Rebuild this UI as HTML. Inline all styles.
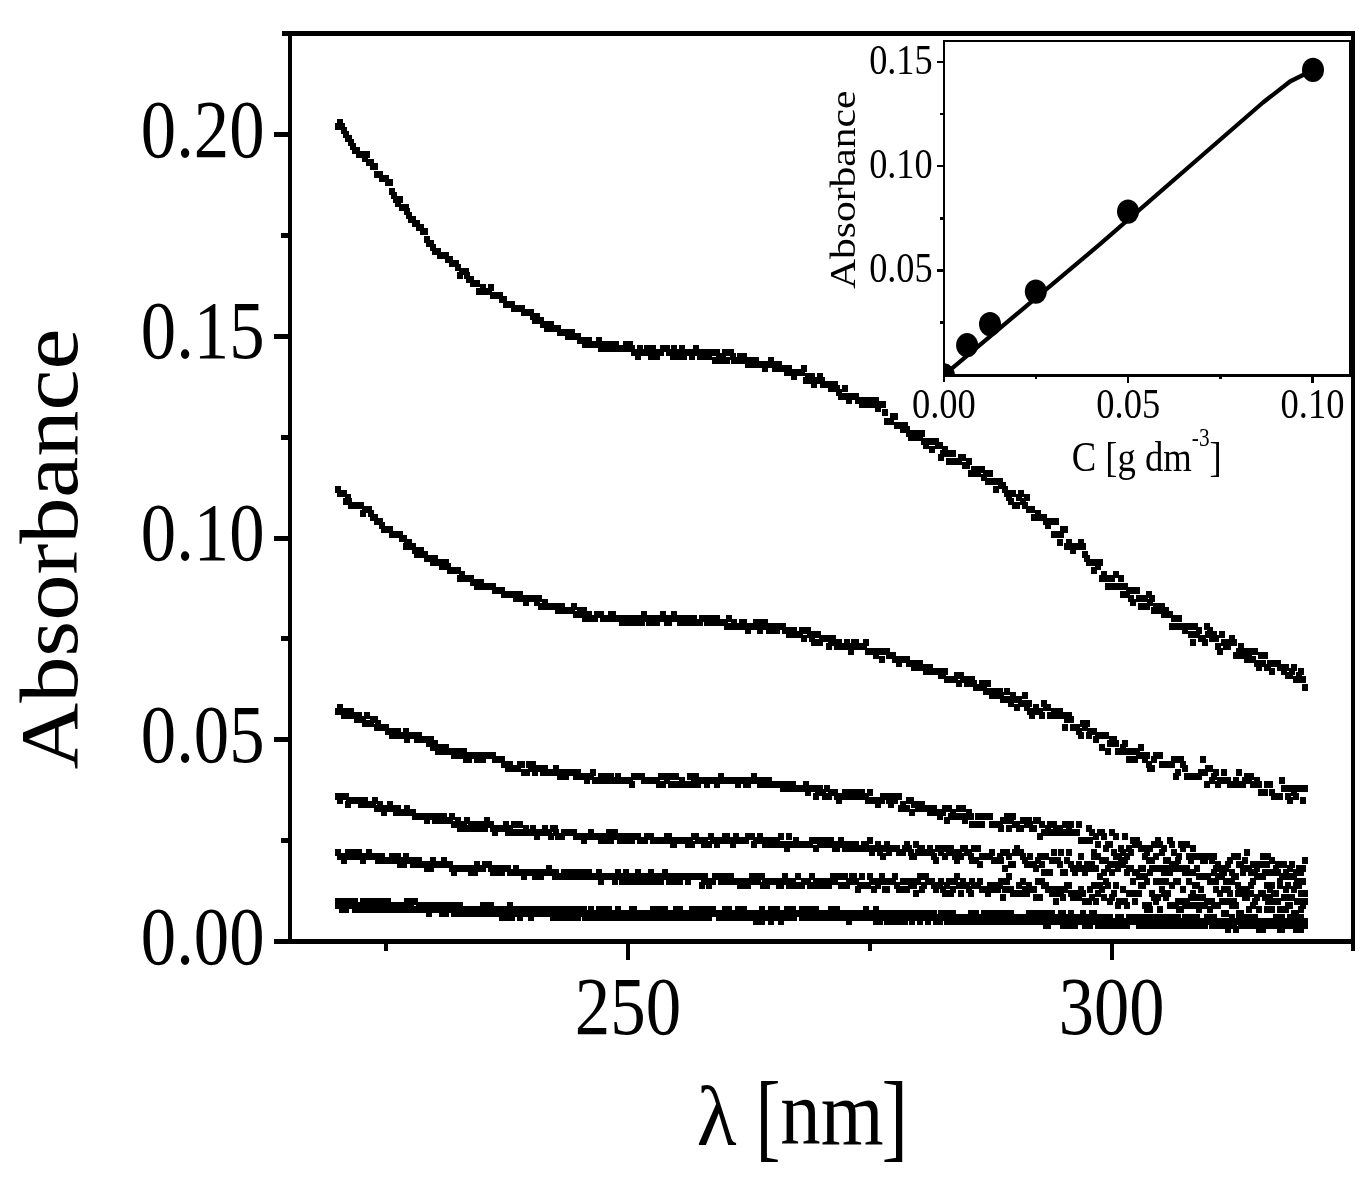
<!DOCTYPE html>
<html lang="en"><head><meta charset="utf-8"><title>Absorbance spectra</title>
<style>html,body{margin:0;padding:0;background:#fff}svg{display:block}text{font-family:'Liberation Serif', 'Times New Roman', serif;fill:#000}</style></head><body>
<svg width="1371" height="1179" viewBox="0 0 1371 1179">
<rect x="0" y="0" width="1371" height="1179" fill="#fff"/>
<g fill="#000" shape-rendering="crispEdges">
<rect x="282" y="31" width="1072" height="5"/>
<rect x="288" y="31" width="4" height="913"/>
<rect x="1351" y="31" width="4" height="920"/>
<rect x="274" y="939" width="1081" height="5"/>
<rect x="274" y="737.2" width="15" height="5"/>
<rect x="274" y="535.5" width="15" height="5"/>
<rect x="274" y="333.8" width="15" height="5"/>
<rect x="274" y="132.0" width="15" height="5"/>
<rect x="281" y="838.1" width="8" height="5"/>
<rect x="281" y="636.4" width="8" height="5"/>
<rect x="281" y="434.6" width="8" height="5"/>
<rect x="281" y="232.9" width="8" height="5"/>
<rect x="626.0" y="940" width="4" height="20"/>
<rect x="1109.7" y="940" width="4" height="20"/>
<rect x="384.1" y="940" width="4" height="11"/>
<rect x="867.9" y="940" width="4" height="11"/>
</g>
<text font-size="100" transform="matrix(0.7072,0,0,0.8224,140.77,963.56)">0.00</text>
<text font-size="100" transform="matrix(0.7072,0,0,0.8224,140.77,761.81)">0.05</text>
<text font-size="100" transform="matrix(0.7072,0,0,0.8224,140.77,560.06)">0.10</text>
<text font-size="100" transform="matrix(0.7072,0,0,0.8224,140.77,358.31)">0.15</text>
<text font-size="100" transform="matrix(0.7072,0,0,0.8224,140.77,156.56)">0.20</text>
<text font-size="100" transform="matrix(0.7092,0,0,0.8343,574.76,1033.53)">250</text>
<text font-size="100" transform="matrix(0.7043,0,0,0.8343,1058.78,1033.53)">300</text>
<g>
<text font-size="100" transform="matrix(0.8200,0,0,0.8400,696.74,1144.70)">λ</text>
<text font-size="100" transform="matrix(0.7522,0,0,0.9732,755.53,1149.25)">[</text>
<text font-size="100" transform="matrix(0.8081,0,0,0.9234,780.28,1144.40)">nm</text>
<text font-size="100" transform="matrix(0.8000,0,0,0.9732,881.40,1149.25)">]</text>
</g>
<text font-size="100" transform="matrix(0,-0.9235,0.8286,0,76.97,769.52)">Absorbance</text>
<path fill="#000" shape-rendering="crispEdges" d="M334.8 122.9h6v7h-6zM336.7 118.9h6v7h-6zM338.6 122.9h6v7h-6zM340.6 127.0h6v7h-6zM342.5 131.0h6v7h-6zM344.5 135.0h6v7h-6zM346.4 135.0h6v7h-6zM348.3 139.1h6v7h-6zM350.3 143.1h6v7h-6zM352.2 147.1h6v7h-6zM354.1 147.1h6v7h-6zM356.1 151.2h6v7h-6zM358.0 151.2h6v7h-6zM359.9 151.2h6v7h-6zM361.9 155.2h6v7h-6zM363.8 151.2h6v7h-6zM365.7 159.2h6v7h-6zM367.7 159.2h6v7h-6zM369.6 163.3h6v7h-6zM371.5 163.3h6v7h-6zM373.5 171.4h6v7h-6zM375.4 171.4h6v7h-6zM377.3 171.4h6v7h-6zM379.3 175.4h6v7h-6zM381.2 175.4h6v7h-6zM383.2 175.4h6v7h-6zM385.1 179.4h6v7h-6zM387.0 179.4h6v7h-6zM389.0 187.5h6v7h-6zM390.9 191.5h6v7h-6zM392.8 195.6h6v7h-6zM394.8 199.6h6v7h-6zM396.7 195.6h6v7h-6zM398.6 203.6h6v7h-6zM400.6 203.6h6v7h-6zM402.5 203.6h6v7h-6zM404.4 207.7h6v7h-6zM406.4 211.7h6v7h-6zM408.3 215.7h6v7h-6zM410.2 215.7h6v7h-6zM412.2 219.8h6v7h-6zM414.1 219.8h6v7h-6zM416.0 223.8h6v7h-6zM418.0 223.8h6v7h-6zM419.9 227.8h6v7h-6zM421.8 227.8h6v7h-6zM423.8 235.9h6v7h-6zM425.7 239.9h6v7h-6zM427.7 239.9h6v7h-6zM429.6 244.0h6v7h-6zM431.5 248.0h6v7h-6zM433.5 248.0h6v7h-6zM435.4 248.0h6v7h-6zM437.3 252.0h6v7h-6zM439.3 252.0h6v7h-6zM441.2 252.0h6v7h-6zM443.1 252.0h6v7h-6zM445.1 256.1h6v7h-6zM447.0 256.1h6v7h-6zM448.9 260.1h6v7h-6zM450.9 260.1h6v7h-6zM452.8 260.1h6v7h-6zM454.7 264.2h6v7h-6zM456.7 272.2h6v7h-6zM458.6 268.2h6v7h-6zM460.5 268.2h6v7h-6zM462.5 268.2h6v7h-6zM464.4 272.2h6v7h-6zM466.3 276.3h6v7h-6zM468.3 276.3h6v7h-6zM470.2 280.3h6v7h-6zM472.2 280.3h6v7h-6zM474.1 280.3h6v7h-6zM476.0 288.4h6v7h-6zM478.0 288.4h6v7h-6zM479.9 284.3h6v7h-6zM481.8 288.4h6v7h-6zM483.8 288.4h6v7h-6zM485.7 288.4h6v7h-6zM487.6 284.3h6v7h-6zM489.6 292.4h6v7h-6zM491.5 292.4h6v7h-6zM493.4 292.4h6v7h-6zM495.4 292.4h6v7h-6zM497.3 292.4h6v7h-6zM499.2 296.4h6v7h-6zM501.2 296.4h6v7h-6zM503.1 300.5h6v7h-6zM505.0 300.5h6v7h-6zM507.0 300.5h6v7h-6zM508.9 300.5h6v7h-6zM510.8 304.5h6v7h-6zM512.8 304.5h6v7h-6zM514.7 304.5h6v7h-6zM516.7 304.5h6v7h-6zM518.6 304.5h6v7h-6zM520.5 308.5h6v7h-6zM522.5 308.5h6v7h-6zM524.4 308.5h6v7h-6zM526.3 308.5h6v7h-6zM528.3 308.5h6v7h-6zM530.2 312.6h6v7h-6zM532.1 316.6h6v7h-6zM534.1 312.6h6v7h-6zM536.0 316.6h6v7h-6zM537.9 316.6h6v7h-6zM539.9 320.6h6v7h-6zM541.8 320.6h6v7h-6zM543.7 324.7h6v7h-6zM545.7 320.6h6v7h-6zM547.6 320.6h6v7h-6zM549.5 324.7h6v7h-6zM551.5 324.7h6v7h-6zM553.4 324.7h6v7h-6zM555.3 324.7h6v7h-6zM557.3 328.7h6v7h-6zM559.2 328.7h6v7h-6zM561.2 328.7h6v7h-6zM563.1 328.7h6v7h-6zM565.0 332.8h6v7h-6zM567.0 328.7h6v7h-6zM568.9 328.7h6v7h-6zM570.8 332.8h6v7h-6zM572.8 332.8h6v7h-6zM574.7 332.8h6v7h-6zM576.6 336.8h6v7h-6zM578.6 336.8h6v7h-6zM580.5 336.8h6v7h-6zM582.4 340.8h6v7h-6zM584.4 340.8h6v7h-6zM586.3 336.8h6v7h-6zM588.2 340.8h6v7h-6zM590.2 340.8h6v7h-6zM592.1 340.8h6v7h-6zM594.0 340.8h6v7h-6zM596.0 336.8h6v7h-6zM597.9 344.9h6v7h-6zM599.8 340.8h6v7h-6zM601.8 340.8h6v7h-6zM603.7 344.9h6v7h-6zM605.7 340.8h6v7h-6zM607.6 344.9h6v7h-6zM609.5 344.9h6v7h-6zM611.5 340.8h6v7h-6zM613.4 340.8h6v7h-6zM615.3 344.9h6v7h-6zM617.3 344.9h6v7h-6zM619.2 344.9h6v7h-6zM621.1 344.9h6v7h-6zM623.1 340.8h6v7h-6zM625.0 344.9h6v7h-6zM626.9 340.8h6v7h-6zM628.9 344.9h6v7h-6zM630.8 348.9h6v7h-6zM632.7 348.9h6v7h-6zM634.7 352.9h6v7h-6zM636.6 344.9h6v7h-6zM638.5 348.9h6v7h-6zM640.5 348.9h6v7h-6zM642.4 348.9h6v7h-6zM644.3 344.9h6v7h-6zM646.3 348.9h6v7h-6zM648.2 352.9h6v7h-6zM650.2 344.9h6v7h-6zM652.1 348.9h6v7h-6zM654.0 352.9h6v7h-6zM656.0 348.9h6v7h-6zM657.9 348.9h6v7h-6zM659.8 344.9h6v7h-6zM661.8 344.9h6v7h-6zM663.7 344.9h6v7h-6zM665.6 348.9h6v7h-6zM667.6 348.9h6v7h-6zM669.5 352.9h6v7h-6zM671.4 344.9h6v7h-6zM673.4 348.9h6v7h-6zM675.3 352.9h6v7h-6zM677.2 348.9h6v7h-6zM679.2 344.9h6v7h-6zM681.1 352.9h6v7h-6zM683.0 348.9h6v7h-6zM685.0 348.9h6v7h-6zM686.9 348.9h6v7h-6zM688.8 352.9h6v7h-6zM690.8 348.9h6v7h-6zM692.7 344.9h6v7h-6zM694.7 348.9h6v7h-6zM696.6 352.9h6v7h-6zM698.5 348.9h6v7h-6zM700.5 352.9h6v7h-6zM702.4 352.9h6v7h-6zM704.3 348.9h6v7h-6zM706.3 352.9h6v7h-6zM708.2 348.9h6v7h-6zM710.1 348.9h6v7h-6zM712.1 357.0h6v7h-6zM714.0 348.9h6v7h-6zM715.9 352.9h6v7h-6zM717.9 357.0h6v7h-6zM719.8 352.9h6v7h-6zM721.7 348.9h6v7h-6zM723.7 357.0h6v7h-6zM725.6 348.9h6v7h-6zM727.5 348.9h6v7h-6zM729.5 352.9h6v7h-6zM731.4 357.0h6v7h-6zM733.3 357.0h6v7h-6zM735.3 357.0h6v7h-6zM737.2 352.9h6v7h-6zM739.2 357.0h6v7h-6zM741.1 352.9h6v7h-6zM743.0 357.0h6v7h-6zM745.0 361.0h6v7h-6zM746.9 357.0h6v7h-6zM748.8 361.0h6v7h-6zM750.8 357.0h6v7h-6zM752.7 357.0h6v7h-6zM754.6 361.0h6v7h-6zM756.6 361.0h6v7h-6zM758.5 361.0h6v7h-6zM760.4 361.0h6v7h-6zM762.4 365.0h6v7h-6zM764.3 361.0h6v7h-6zM766.2 361.0h6v7h-6zM768.2 357.0h6v7h-6zM770.1 361.0h6v7h-6zM772.0 365.0h6v7h-6zM774.0 361.0h6v7h-6zM775.9 361.0h6v7h-6zM777.8 365.0h6v7h-6zM779.8 365.0h6v7h-6zM781.7 365.0h6v7h-6zM783.7 369.1h6v7h-6zM785.6 365.0h6v7h-6zM787.5 369.1h6v7h-6zM789.5 369.1h6v7h-6zM791.4 373.1h6v7h-6zM793.3 369.1h6v7h-6zM795.3 369.1h6v7h-6zM797.2 369.1h6v7h-6zM799.1 369.1h6v7h-6zM801.1 365.0h6v7h-6zM803.0 377.1h6v7h-6zM804.9 373.1h6v7h-6zM806.9 377.1h6v7h-6zM808.8 373.1h6v7h-6zM810.7 381.2h6v7h-6zM812.7 377.1h6v7h-6zM814.6 377.1h6v7h-6zM816.5 373.1h6v7h-6zM818.5 377.1h6v7h-6zM820.4 381.2h6v7h-6zM822.3 381.2h6v7h-6zM824.3 381.2h6v7h-6zM826.2 381.2h6v7h-6zM828.2 385.2h6v7h-6zM830.1 381.2h6v7h-6zM832.0 381.2h6v7h-6zM834.0 385.2h6v7h-6zM835.9 389.2h6v7h-6zM837.8 393.3h6v7h-6zM839.8 393.3h6v7h-6zM841.7 385.2h6v7h-6zM843.6 393.3h6v7h-6zM845.6 397.3h6v7h-6zM847.5 393.3h6v7h-6zM849.4 393.3h6v7h-6zM851.4 393.3h6v7h-6zM853.3 393.3h6v7h-6zM855.2 397.3h6v7h-6zM857.2 397.3h6v7h-6zM859.1 401.3h6v7h-6zM861.0 401.3h6v7h-6zM863.0 397.3h6v7h-6zM864.9 401.3h6v7h-6zM866.8 401.3h6v7h-6zM868.8 397.3h6v7h-6zM870.7 401.3h6v7h-6zM872.7 397.3h6v7h-6zM874.6 405.4h6v7h-6zM876.5 401.3h6v7h-6zM878.5 401.3h6v7h-6zM880.4 401.3h6v7h-6zM882.3 409.4h6v7h-6zM884.3 417.5h6v7h-6zM886.2 417.5h6v7h-6zM888.1 417.5h6v7h-6zM890.1 413.4h6v7h-6zM892.0 413.4h6v7h-6zM893.9 421.5h6v7h-6zM895.9 421.5h6v7h-6zM897.8 421.5h6v7h-6zM899.7 425.6h6v7h-6zM901.7 421.5h6v7h-6zM903.6 425.6h6v7h-6zM905.5 429.6h6v7h-6zM907.5 433.6h6v7h-6zM909.4 429.6h6v7h-6zM911.4 433.6h6v7h-6zM913.3 429.6h6v7h-6zM915.2 433.6h6v7h-6zM917.2 433.6h6v7h-6zM919.1 429.6h6v7h-6zM921.0 437.7h6v7h-6zM923.0 441.7h6v7h-6zM924.9 437.7h6v7h-6zM926.8 437.7h6v7h-6zM928.8 445.7h6v7h-6zM930.7 437.7h6v7h-6zM932.6 437.7h6v7h-6zM934.6 441.7h6v7h-6zM936.5 441.7h6v7h-6zM938.4 453.8h6v7h-6zM940.4 449.8h6v7h-6zM942.3 445.7h6v7h-6zM944.2 449.8h6v7h-6zM946.2 457.8h6v7h-6zM948.1 449.8h6v7h-6zM950.0 449.8h6v7h-6zM952.0 457.8h6v7h-6zM953.9 457.8h6v7h-6zM955.9 457.8h6v7h-6zM957.8 453.8h6v7h-6zM959.7 453.8h6v7h-6zM961.7 461.9h6v7h-6zM963.6 461.9h6v7h-6zM965.5 457.8h6v7h-6zM967.5 469.9h6v7h-6zM969.4 469.9h6v7h-6zM971.3 465.9h6v7h-6zM973.3 465.9h6v7h-6zM975.2 469.9h6v7h-6zM977.1 465.9h6v7h-6zM979.1 465.9h6v7h-6zM981.0 474.0h6v7h-6zM982.9 469.9h6v7h-6zM984.9 478.0h6v7h-6zM986.8 469.9h6v7h-6zM988.7 478.0h6v7h-6zM990.7 478.0h6v7h-6zM992.6 486.1h6v7h-6zM994.5 478.0h6v7h-6zM996.5 478.0h6v7h-6zM998.4 482.0h6v7h-6zM1000.4 482.0h6v7h-6zM1002.3 486.1h6v7h-6zM1004.2 490.1h6v7h-6zM1006.2 494.1h6v7h-6zM1008.1 498.2h6v7h-6zM1010.0 490.1h6v7h-6zM1012.0 502.2h6v7h-6zM1013.9 502.2h6v7h-6zM1015.8 494.1h6v7h-6zM1017.8 490.1h6v7h-6zM1019.7 498.2h6v7h-6zM1021.6 502.2h6v7h-6zM1023.6 494.1h6v7h-6zM1025.5 506.3h6v7h-6zM1027.4 506.3h6v7h-6zM1029.4 506.3h6v7h-6zM1031.3 514.3h6v7h-6zM1033.2 514.3h6v7h-6zM1035.2 510.3h6v7h-6zM1037.1 514.3h6v7h-6zM1039.0 514.3h6v7h-6zM1041.0 514.3h6v7h-6zM1042.9 518.4h6v7h-6zM1044.9 522.4h6v7h-6zM1046.8 518.4h6v7h-6zM1048.7 518.4h6v7h-6zM1050.7 530.5h6v7h-6zM1052.6 518.4h6v7h-6zM1054.5 530.5h6v7h-6zM1056.5 538.5h6v7h-6zM1058.4 530.5h6v7h-6zM1060.3 526.4h6v7h-6zM1062.3 526.4h6v7h-6zM1064.2 542.6h6v7h-6zM1066.1 538.5h6v7h-6zM1068.1 542.6h6v7h-6zM1070.0 546.6h6v7h-6zM1071.9 542.6h6v7h-6zM1073.9 542.6h6v7h-6zM1075.8 542.6h6v7h-6zM1077.7 538.5h6v7h-6zM1079.7 542.6h6v7h-6zM1081.6 550.6h6v7h-6zM1083.5 554.7h6v7h-6zM1085.5 558.7h6v7h-6zM1087.4 558.7h6v7h-6zM1089.4 558.7h6v7h-6zM1091.3 566.8h6v7h-6zM1093.2 558.7h6v7h-6zM1095.2 562.7h6v7h-6zM1097.1 558.7h6v7h-6zM1099.0 574.8h6v7h-6zM1101.0 570.8h6v7h-6zM1102.9 574.8h6v7h-6zM1104.8 582.9h6v7h-6zM1106.8 582.9h6v7h-6zM1108.7 574.8h6v7h-6zM1110.6 582.9h6v7h-6zM1112.6 570.8h6v7h-6zM1114.5 582.9h6v7h-6zM1116.4 582.9h6v7h-6zM1118.4 574.8h6v7h-6zM1120.3 591.0h6v7h-6zM1122.2 582.9h6v7h-6zM1124.2 591.0h6v7h-6zM1126.1 587.0h6v7h-6zM1128.0 595.0h6v7h-6zM1130.0 599.1h6v7h-6zM1131.9 587.0h6v7h-6zM1133.9 587.0h6v7h-6zM1135.8 595.0h6v7h-6zM1137.7 603.1h6v7h-6zM1139.7 595.0h6v7h-6zM1141.6 595.0h6v7h-6zM1143.5 603.1h6v7h-6zM1145.5 591.0h6v7h-6zM1147.4 599.1h6v7h-6zM1149.3 595.0h6v7h-6zM1151.3 607.1h6v7h-6zM1153.2 603.1h6v7h-6zM1155.1 603.1h6v7h-6zM1157.1 607.1h6v7h-6zM1159.0 603.1h6v7h-6zM1160.9 611.2h6v7h-6zM1162.9 607.1h6v7h-6zM1164.8 611.2h6v7h-6zM1166.7 611.2h6v7h-6zM1168.7 623.3h6v7h-6zM1170.6 615.2h6v7h-6zM1172.5 623.3h6v7h-6zM1174.5 623.3h6v7h-6zM1176.4 615.2h6v7h-6zM1178.4 623.3h6v7h-6zM1180.3 623.3h6v7h-6zM1182.2 627.3h6v7h-6zM1184.2 623.3h6v7h-6zM1186.1 623.3h6v7h-6zM1188.0 631.3h6v7h-6zM1190.0 639.4h6v7h-6zM1191.9 623.3h6v7h-6zM1193.8 631.3h6v7h-6zM1195.8 627.3h6v7h-6zM1197.7 635.4h6v7h-6zM1199.6 635.4h6v7h-6zM1201.6 639.4h6v7h-6zM1203.5 623.3h6v7h-6zM1205.4 631.3h6v7h-6zM1207.4 627.3h6v7h-6zM1209.3 635.4h6v7h-6zM1211.2 631.3h6v7h-6zM1213.2 635.4h6v7h-6zM1215.1 643.4h6v7h-6zM1217.0 647.5h6v7h-6zM1219.0 631.3h6v7h-6zM1220.9 639.4h6v7h-6zM1222.9 643.4h6v7h-6zM1224.8 643.4h6v7h-6zM1226.7 639.4h6v7h-6zM1228.7 635.4h6v7h-6zM1230.6 639.4h6v7h-6zM1232.5 651.5h6v7h-6zM1234.5 651.5h6v7h-6zM1236.4 647.5h6v7h-6zM1238.3 643.4h6v7h-6zM1240.3 651.5h6v7h-6zM1242.2 647.5h6v7h-6zM1244.1 655.5h6v7h-6zM1246.1 651.5h6v7h-6zM1248.0 647.5h6v7h-6zM1249.9 655.5h6v7h-6zM1251.9 647.5h6v7h-6zM1253.8 659.6h6v7h-6zM1255.7 663.6h6v7h-6zM1257.7 651.5h6v7h-6zM1259.6 659.6h6v7h-6zM1261.5 651.5h6v7h-6zM1263.5 663.6h6v7h-6zM1265.4 663.6h6v7h-6zM1267.4 659.6h6v7h-6zM1269.3 667.7h6v7h-6zM1271.2 659.6h6v7h-6zM1273.2 659.6h6v7h-6zM1275.1 659.6h6v7h-6zM1277.0 663.6h6v7h-6zM1279.0 663.6h6v7h-6zM1280.9 667.7h6v7h-6zM1282.8 663.6h6v7h-6zM1284.8 671.7h6v7h-6zM1286.7 671.7h6v7h-6zM1288.6 667.7h6v7h-6zM1290.6 663.6h6v7h-6zM1292.5 675.7h6v7h-6zM1294.4 675.7h6v7h-6zM1296.4 671.7h6v7h-6zM1298.3 667.7h6v7h-6zM1300.2 675.7h6v7h-6zM1302.2 683.8h6v7h-6zM334.8 486.1h6v7h-6zM336.7 490.1h6v7h-6zM338.6 490.1h6v7h-6zM340.6 490.1h6v7h-6zM342.5 498.2h6v7h-6zM344.5 494.1h6v7h-6zM346.4 498.2h6v7h-6zM348.3 502.2h6v7h-6zM350.3 502.2h6v7h-6zM352.2 502.2h6v7h-6zM354.1 502.2h6v7h-6zM356.1 502.2h6v7h-6zM358.0 502.2h6v7h-6zM359.9 510.3h6v7h-6zM361.9 506.3h6v7h-6zM363.8 506.3h6v7h-6zM365.7 506.3h6v7h-6zM367.7 510.3h6v7h-6zM369.6 514.3h6v7h-6zM371.5 514.3h6v7h-6zM373.5 518.4h6v7h-6zM375.4 518.4h6v7h-6zM377.3 518.4h6v7h-6zM379.3 522.4h6v7h-6zM381.2 526.4h6v7h-6zM383.2 526.4h6v7h-6zM385.1 526.4h6v7h-6zM387.0 526.4h6v7h-6zM389.0 530.5h6v7h-6zM390.9 530.5h6v7h-6zM392.8 530.5h6v7h-6zM394.8 530.5h6v7h-6zM396.7 530.5h6v7h-6zM398.6 534.5h6v7h-6zM400.6 534.5h6v7h-6zM402.5 542.6h6v7h-6zM404.4 538.5h6v7h-6zM406.4 538.5h6v7h-6zM408.3 542.6h6v7h-6zM410.2 542.6h6v7h-6zM412.2 546.6h6v7h-6zM414.1 550.6h6v7h-6zM416.0 546.6h6v7h-6zM418.0 546.6h6v7h-6zM419.9 550.6h6v7h-6zM421.8 550.6h6v7h-6zM423.8 554.7h6v7h-6zM425.7 554.7h6v7h-6zM427.7 554.7h6v7h-6zM429.6 558.7h6v7h-6zM431.5 554.7h6v7h-6zM433.5 558.7h6v7h-6zM435.4 558.7h6v7h-6zM437.3 558.7h6v7h-6zM439.3 562.7h6v7h-6zM441.2 562.7h6v7h-6zM443.1 558.7h6v7h-6zM445.1 562.7h6v7h-6zM447.0 566.8h6v7h-6zM448.9 566.8h6v7h-6zM450.9 566.8h6v7h-6zM452.8 566.8h6v7h-6zM454.7 566.8h6v7h-6zM456.7 574.8h6v7h-6zM458.6 570.8h6v7h-6zM460.5 574.8h6v7h-6zM462.5 574.8h6v7h-6zM464.4 574.8h6v7h-6zM466.3 574.8h6v7h-6zM468.3 574.8h6v7h-6zM470.2 578.9h6v7h-6zM472.2 578.9h6v7h-6zM474.1 582.9h6v7h-6zM476.0 578.9h6v7h-6zM478.0 578.9h6v7h-6zM479.9 582.9h6v7h-6zM481.8 582.9h6v7h-6zM483.8 582.9h6v7h-6zM485.7 582.9h6v7h-6zM487.6 582.9h6v7h-6zM489.6 582.9h6v7h-6zM491.5 587.0h6v7h-6zM493.4 587.0h6v7h-6zM495.4 587.0h6v7h-6zM497.3 587.0h6v7h-6zM499.2 587.0h6v7h-6zM501.2 591.0h6v7h-6zM503.1 591.0h6v7h-6zM505.0 591.0h6v7h-6zM507.0 591.0h6v7h-6zM508.9 591.0h6v7h-6zM510.8 591.0h6v7h-6zM512.8 595.0h6v7h-6zM514.7 591.0h6v7h-6zM516.7 591.0h6v7h-6zM518.6 595.0h6v7h-6zM520.5 595.0h6v7h-6zM522.5 599.1h6v7h-6zM524.4 595.0h6v7h-6zM526.3 595.0h6v7h-6zM528.3 595.0h6v7h-6zM530.2 595.0h6v7h-6zM532.1 595.0h6v7h-6zM534.1 599.1h6v7h-6zM536.0 595.0h6v7h-6zM537.9 603.1h6v7h-6zM539.9 603.1h6v7h-6zM541.8 599.1h6v7h-6zM543.7 603.1h6v7h-6zM545.7 603.1h6v7h-6zM547.6 603.1h6v7h-6zM549.5 603.1h6v7h-6zM551.5 603.1h6v7h-6zM553.4 603.1h6v7h-6zM555.3 607.1h6v7h-6zM557.3 603.1h6v7h-6zM559.2 603.1h6v7h-6zM561.2 607.1h6v7h-6zM563.1 607.1h6v7h-6zM565.0 607.1h6v7h-6zM567.0 607.1h6v7h-6zM568.9 607.1h6v7h-6zM570.8 603.1h6v7h-6zM572.8 611.2h6v7h-6zM574.7 611.2h6v7h-6zM576.6 607.1h6v7h-6zM578.6 611.2h6v7h-6zM580.5 607.1h6v7h-6zM582.4 615.2h6v7h-6zM584.4 611.2h6v7h-6zM586.3 611.2h6v7h-6zM588.2 615.2h6v7h-6zM590.2 615.2h6v7h-6zM592.1 615.2h6v7h-6zM594.0 611.2h6v7h-6zM596.0 611.2h6v7h-6zM597.9 611.2h6v7h-6zM599.8 615.2h6v7h-6zM601.8 615.2h6v7h-6zM603.7 615.2h6v7h-6zM605.7 615.2h6v7h-6zM607.6 611.2h6v7h-6zM609.5 611.2h6v7h-6zM611.5 615.2h6v7h-6zM613.4 615.2h6v7h-6zM615.3 615.2h6v7h-6zM617.3 615.2h6v7h-6zM619.2 619.2h6v7h-6zM621.1 615.2h6v7h-6zM623.1 615.2h6v7h-6zM625.0 619.2h6v7h-6zM626.9 615.2h6v7h-6zM628.9 615.2h6v7h-6zM630.8 619.2h6v7h-6zM632.7 615.2h6v7h-6zM634.7 619.2h6v7h-6zM636.6 615.2h6v7h-6zM638.5 619.2h6v7h-6zM640.5 611.2h6v7h-6zM642.4 615.2h6v7h-6zM644.3 615.2h6v7h-6zM646.3 619.2h6v7h-6zM648.2 619.2h6v7h-6zM650.2 615.2h6v7h-6zM652.1 615.2h6v7h-6zM654.0 619.2h6v7h-6zM656.0 615.2h6v7h-6zM657.9 615.2h6v7h-6zM659.8 611.2h6v7h-6zM661.8 615.2h6v7h-6zM663.7 619.2h6v7h-6zM665.6 619.2h6v7h-6zM667.6 615.2h6v7h-6zM669.5 615.2h6v7h-6zM671.4 611.2h6v7h-6zM673.4 615.2h6v7h-6zM675.3 615.2h6v7h-6zM677.2 619.2h6v7h-6zM679.2 619.2h6v7h-6zM681.1 615.2h6v7h-6zM683.0 615.2h6v7h-6zM685.0 619.2h6v7h-6zM686.9 619.2h6v7h-6zM688.8 615.2h6v7h-6zM690.8 615.2h6v7h-6zM692.7 619.2h6v7h-6zM694.7 619.2h6v7h-6zM696.6 619.2h6v7h-6zM698.5 615.2h6v7h-6zM700.5 615.2h6v7h-6zM702.4 615.2h6v7h-6zM704.3 619.2h6v7h-6zM706.3 615.2h6v7h-6zM708.2 619.2h6v7h-6zM710.1 615.2h6v7h-6zM712.1 619.2h6v7h-6zM714.0 615.2h6v7h-6zM715.9 619.2h6v7h-6zM717.9 619.2h6v7h-6zM719.8 619.2h6v7h-6zM721.7 619.2h6v7h-6zM723.7 623.3h6v7h-6zM725.6 615.2h6v7h-6zM727.5 623.3h6v7h-6zM729.5 623.3h6v7h-6zM731.4 619.2h6v7h-6zM733.3 623.3h6v7h-6zM735.3 623.3h6v7h-6zM737.2 623.3h6v7h-6zM739.2 619.2h6v7h-6zM741.1 619.2h6v7h-6zM743.0 623.3h6v7h-6zM745.0 627.3h6v7h-6zM746.9 623.3h6v7h-6zM748.8 623.3h6v7h-6zM750.8 623.3h6v7h-6zM752.7 619.2h6v7h-6zM754.6 623.3h6v7h-6zM756.6 627.3h6v7h-6zM758.5 619.2h6v7h-6zM760.4 623.3h6v7h-6zM762.4 619.2h6v7h-6zM764.3 623.3h6v7h-6zM766.2 627.3h6v7h-6zM768.2 623.3h6v7h-6zM770.1 623.3h6v7h-6zM772.0 627.3h6v7h-6zM774.0 627.3h6v7h-6zM775.9 623.3h6v7h-6zM777.8 623.3h6v7h-6zM779.8 623.3h6v7h-6zM781.7 627.3h6v7h-6zM783.7 627.3h6v7h-6zM785.6 631.3h6v7h-6zM787.5 631.3h6v7h-6zM789.5 627.3h6v7h-6zM791.4 627.3h6v7h-6zM793.3 631.3h6v7h-6zM795.3 631.3h6v7h-6zM797.2 631.3h6v7h-6zM799.1 627.3h6v7h-6zM801.1 635.4h6v7h-6zM803.0 627.3h6v7h-6zM804.9 627.3h6v7h-6zM806.9 631.3h6v7h-6zM808.8 635.4h6v7h-6zM810.7 639.4h6v7h-6zM812.7 631.3h6v7h-6zM814.6 631.3h6v7h-6zM816.5 639.4h6v7h-6zM818.5 635.4h6v7h-6zM820.4 635.4h6v7h-6zM822.3 635.4h6v7h-6zM824.3 635.4h6v7h-6zM826.2 643.4h6v7h-6zM828.2 639.4h6v7h-6zM830.1 635.4h6v7h-6zM832.0 639.4h6v7h-6zM834.0 643.4h6v7h-6zM835.9 639.4h6v7h-6zM837.8 643.4h6v7h-6zM839.8 643.4h6v7h-6zM841.7 643.4h6v7h-6zM843.6 639.4h6v7h-6zM845.6 643.4h6v7h-6zM847.5 647.5h6v7h-6zM849.4 643.4h6v7h-6zM851.4 639.4h6v7h-6zM853.3 639.4h6v7h-6zM855.2 643.4h6v7h-6zM857.2 643.4h6v7h-6zM859.1 643.4h6v7h-6zM861.0 643.4h6v7h-6zM863.0 639.4h6v7h-6zM864.9 647.5h6v7h-6zM866.8 647.5h6v7h-6zM868.8 647.5h6v7h-6zM870.7 647.5h6v7h-6zM872.7 651.5h6v7h-6zM874.6 647.5h6v7h-6zM876.5 647.5h6v7h-6zM878.5 655.5h6v7h-6zM880.4 647.5h6v7h-6zM882.3 647.5h6v7h-6zM884.3 647.5h6v7h-6zM886.2 651.5h6v7h-6zM888.1 651.5h6v7h-6zM890.1 651.5h6v7h-6zM892.0 655.5h6v7h-6zM893.9 655.5h6v7h-6zM895.9 659.6h6v7h-6zM897.8 655.5h6v7h-6zM899.7 655.5h6v7h-6zM901.7 655.5h6v7h-6zM903.6 655.5h6v7h-6zM905.5 659.6h6v7h-6zM907.5 659.6h6v7h-6zM909.4 659.6h6v7h-6zM911.4 663.6h6v7h-6zM913.3 663.6h6v7h-6zM915.2 659.6h6v7h-6zM917.2 659.6h6v7h-6zM919.1 663.6h6v7h-6zM921.0 663.6h6v7h-6zM923.0 667.7h6v7h-6zM924.9 663.6h6v7h-6zM926.8 663.6h6v7h-6zM928.8 667.7h6v7h-6zM930.7 667.7h6v7h-6zM932.6 667.7h6v7h-6zM934.6 667.7h6v7h-6zM936.5 667.7h6v7h-6zM938.4 671.7h6v7h-6zM940.4 671.7h6v7h-6zM942.3 667.7h6v7h-6zM944.2 675.7h6v7h-6zM946.2 675.7h6v7h-6zM948.1 675.7h6v7h-6zM950.0 675.7h6v7h-6zM952.0 675.7h6v7h-6zM953.9 671.7h6v7h-6zM955.9 679.8h6v7h-6zM957.8 671.7h6v7h-6zM959.7 675.7h6v7h-6zM961.7 675.7h6v7h-6zM963.6 679.8h6v7h-6zM965.5 679.8h6v7h-6zM967.5 675.7h6v7h-6zM969.4 675.7h6v7h-6zM971.3 679.8h6v7h-6zM973.3 683.8h6v7h-6zM975.2 683.8h6v7h-6zM977.1 683.8h6v7h-6zM979.1 679.8h6v7h-6zM981.0 683.8h6v7h-6zM982.9 687.8h6v7h-6zM984.9 679.8h6v7h-6zM986.8 687.8h6v7h-6zM988.7 691.9h6v7h-6zM990.7 687.8h6v7h-6zM992.6 687.8h6v7h-6zM994.5 691.9h6v7h-6zM996.5 687.8h6v7h-6zM998.4 691.9h6v7h-6zM1000.4 695.9h6v7h-6zM1002.3 695.9h6v7h-6zM1004.2 687.8h6v7h-6zM1006.2 695.9h6v7h-6zM1008.1 699.9h6v7h-6zM1010.0 691.9h6v7h-6zM1012.0 695.9h6v7h-6zM1013.9 704.0h6v7h-6zM1015.8 695.9h6v7h-6zM1017.8 699.9h6v7h-6zM1019.7 699.9h6v7h-6zM1021.6 691.9h6v7h-6zM1023.6 704.0h6v7h-6zM1025.5 699.9h6v7h-6zM1027.4 708.0h6v7h-6zM1029.4 712.0h6v7h-6zM1031.3 708.0h6v7h-6zM1033.2 704.0h6v7h-6zM1035.2 708.0h6v7h-6zM1037.1 708.0h6v7h-6zM1039.0 712.0h6v7h-6zM1041.0 699.9h6v7h-6zM1042.9 704.0h6v7h-6zM1044.9 704.0h6v7h-6zM1046.8 712.0h6v7h-6zM1048.7 712.0h6v7h-6zM1050.7 708.0h6v7h-6zM1052.6 708.0h6v7h-6zM1054.5 712.0h6v7h-6zM1056.5 708.0h6v7h-6zM1058.4 712.0h6v7h-6zM1060.3 712.0h6v7h-6zM1062.3 724.1h6v7h-6zM1064.2 716.1h6v7h-6zM1066.1 712.0h6v7h-6zM1068.1 716.1h6v7h-6zM1070.0 724.1h6v7h-6zM1071.9 724.1h6v7h-6zM1073.9 724.1h6v7h-6zM1075.8 728.2h6v7h-6zM1077.7 732.2h6v7h-6zM1079.7 720.1h6v7h-6zM1081.6 724.1h6v7h-6zM1083.5 720.1h6v7h-6zM1085.5 732.2h6v7h-6zM1087.4 728.2h6v7h-6zM1089.4 728.2h6v7h-6zM1091.3 728.2h6v7h-6zM1093.2 736.2h6v7h-6zM1095.2 732.2h6v7h-6zM1097.1 732.2h6v7h-6zM1099.0 744.3h6v7h-6zM1101.0 732.2h6v7h-6zM1102.9 732.2h6v7h-6zM1104.8 748.4h6v7h-6zM1106.8 740.3h6v7h-6zM1108.7 736.2h6v7h-6zM1110.6 736.2h6v7h-6zM1112.6 740.3h6v7h-6zM1114.5 748.4h6v7h-6zM1116.4 748.4h6v7h-6zM1118.4 748.4h6v7h-6zM1120.3 744.3h6v7h-6zM1122.2 740.3h6v7h-6zM1124.2 748.4h6v7h-6zM1126.1 756.4h6v7h-6zM1128.0 756.4h6v7h-6zM1130.0 748.4h6v7h-6zM1131.9 756.4h6v7h-6zM1133.9 748.4h6v7h-6zM1135.8 752.4h6v7h-6zM1137.7 744.3h6v7h-6zM1139.7 752.4h6v7h-6zM1141.6 756.4h6v7h-6zM1143.5 752.4h6v7h-6zM1145.5 760.5h6v7h-6zM1147.4 764.5h6v7h-6zM1149.3 764.5h6v7h-6zM1151.3 756.4h6v7h-6zM1153.2 752.4h6v7h-6zM1155.1 752.4h6v7h-6zM1157.1 752.4h6v7h-6zM1159.0 760.5h6v7h-6zM1160.9 760.5h6v7h-6zM1162.9 760.5h6v7h-6zM1164.8 760.5h6v7h-6zM1166.7 760.5h6v7h-6zM1168.7 760.5h6v7h-6zM1170.6 756.4h6v7h-6zM1172.5 772.6h6v7h-6zM1174.5 768.5h6v7h-6zM1176.4 756.4h6v7h-6zM1178.4 756.4h6v7h-6zM1180.3 760.5h6v7h-6zM1182.2 764.5h6v7h-6zM1184.2 772.6h6v7h-6zM1186.1 772.6h6v7h-6zM1188.0 772.6h6v7h-6zM1190.0 772.6h6v7h-6zM1191.9 772.6h6v7h-6zM1193.8 772.6h6v7h-6zM1195.8 772.6h6v7h-6zM1197.7 768.5h6v7h-6zM1199.6 756.4h6v7h-6zM1201.6 768.5h6v7h-6zM1203.5 780.6h6v7h-6zM1205.4 764.5h6v7h-6zM1207.4 764.5h6v7h-6zM1209.3 776.6h6v7h-6zM1211.2 772.6h6v7h-6zM1213.2 768.5h6v7h-6zM1215.1 780.6h6v7h-6zM1217.0 776.6h6v7h-6zM1219.0 776.6h6v7h-6zM1220.9 768.5h6v7h-6zM1222.9 776.6h6v7h-6zM1224.8 776.6h6v7h-6zM1226.7 780.6h6v7h-6zM1228.7 780.6h6v7h-6zM1230.6 780.6h6v7h-6zM1232.5 776.6h6v7h-6zM1234.5 780.6h6v7h-6zM1236.4 768.5h6v7h-6zM1238.3 780.6h6v7h-6zM1240.3 780.6h6v7h-6zM1242.2 776.6h6v7h-6zM1244.1 772.6h6v7h-6zM1246.1 776.6h6v7h-6zM1248.0 772.6h6v7h-6zM1249.9 780.6h6v7h-6zM1251.9 780.6h6v7h-6zM1253.8 776.6h6v7h-6zM1255.7 780.6h6v7h-6zM1257.7 788.7h6v7h-6zM1259.6 788.7h6v7h-6zM1261.5 788.7h6v7h-6zM1263.5 780.6h6v7h-6zM1265.4 780.6h6v7h-6zM1267.4 780.6h6v7h-6zM1269.3 788.7h6v7h-6zM1271.2 792.7h6v7h-6zM1273.2 792.7h6v7h-6zM1275.1 792.7h6v7h-6zM1277.0 792.7h6v7h-6zM1279.0 776.6h6v7h-6zM1280.9 784.7h6v7h-6zM1282.8 784.7h6v7h-6zM1284.8 792.7h6v7h-6zM1286.7 796.8h6v7h-6zM1288.6 784.7h6v7h-6zM1290.6 788.7h6v7h-6zM1292.5 792.7h6v7h-6zM1294.4 784.7h6v7h-6zM1296.4 784.7h6v7h-6zM1298.3 784.7h6v7h-6zM1300.2 796.8h6v7h-6zM1302.2 784.7h6v7h-6zM334.8 708.0h6v7h-6zM336.7 704.0h6v7h-6zM338.6 708.0h6v7h-6zM340.6 712.0h6v7h-6zM342.5 708.0h6v7h-6zM344.5 708.0h6v7h-6zM346.4 712.0h6v7h-6zM348.3 708.0h6v7h-6zM350.3 712.0h6v7h-6zM352.2 712.0h6v7h-6zM354.1 716.1h6v7h-6zM356.1 712.0h6v7h-6zM358.0 716.1h6v7h-6zM359.9 716.1h6v7h-6zM361.9 720.1h6v7h-6zM363.8 712.0h6v7h-6zM365.7 720.1h6v7h-6zM367.7 720.1h6v7h-6zM369.6 716.1h6v7h-6zM371.5 716.1h6v7h-6zM373.5 724.1h6v7h-6zM375.4 720.1h6v7h-6zM377.3 724.1h6v7h-6zM379.3 724.1h6v7h-6zM381.2 724.1h6v7h-6zM383.2 724.1h6v7h-6zM385.1 728.2h6v7h-6zM387.0 728.2h6v7h-6zM389.0 732.2h6v7h-6zM390.9 732.2h6v7h-6zM392.8 728.2h6v7h-6zM394.8 728.2h6v7h-6zM396.7 732.2h6v7h-6zM398.6 732.2h6v7h-6zM400.6 732.2h6v7h-6zM402.5 728.2h6v7h-6zM404.4 736.2h6v7h-6zM406.4 732.2h6v7h-6zM408.3 732.2h6v7h-6zM410.2 732.2h6v7h-6zM412.2 732.2h6v7h-6zM414.1 736.2h6v7h-6zM416.0 732.2h6v7h-6zM418.0 736.2h6v7h-6zM419.9 736.2h6v7h-6zM421.8 736.2h6v7h-6zM423.8 736.2h6v7h-6zM425.7 740.3h6v7h-6zM427.7 736.2h6v7h-6zM429.6 744.3h6v7h-6zM431.5 740.3h6v7h-6zM433.5 744.3h6v7h-6zM435.4 748.4h6v7h-6zM437.3 744.3h6v7h-6zM439.3 748.4h6v7h-6zM441.2 744.3h6v7h-6zM443.1 744.3h6v7h-6zM445.1 748.4h6v7h-6zM447.0 748.4h6v7h-6zM448.9 748.4h6v7h-6zM450.9 752.4h6v7h-6zM452.8 748.4h6v7h-6zM454.7 748.4h6v7h-6zM456.7 752.4h6v7h-6zM458.6 752.4h6v7h-6zM460.5 748.4h6v7h-6zM462.5 756.4h6v7h-6zM464.4 752.4h6v7h-6zM466.3 756.4h6v7h-6zM468.3 752.4h6v7h-6zM470.2 752.4h6v7h-6zM472.2 752.4h6v7h-6zM474.1 756.4h6v7h-6zM476.0 756.4h6v7h-6zM478.0 752.4h6v7h-6zM479.9 756.4h6v7h-6zM481.8 752.4h6v7h-6zM483.8 752.4h6v7h-6zM485.7 752.4h6v7h-6zM487.6 752.4h6v7h-6zM489.6 752.4h6v7h-6zM491.5 756.4h6v7h-6zM493.4 756.4h6v7h-6zM495.4 756.4h6v7h-6zM497.3 756.4h6v7h-6zM499.2 756.4h6v7h-6zM501.2 760.5h6v7h-6zM503.1 760.5h6v7h-6zM505.0 764.5h6v7h-6zM507.0 760.5h6v7h-6zM508.9 764.5h6v7h-6zM510.8 764.5h6v7h-6zM512.8 764.5h6v7h-6zM514.7 764.5h6v7h-6zM516.7 760.5h6v7h-6zM518.6 760.5h6v7h-6zM520.5 768.5h6v7h-6zM522.5 768.5h6v7h-6zM524.4 768.5h6v7h-6zM526.3 760.5h6v7h-6zM528.3 764.5h6v7h-6zM530.2 760.5h6v7h-6zM532.1 768.5h6v7h-6zM534.1 764.5h6v7h-6zM536.0 764.5h6v7h-6zM537.9 764.5h6v7h-6zM539.9 768.5h6v7h-6zM541.8 764.5h6v7h-6zM543.7 768.5h6v7h-6zM545.7 768.5h6v7h-6zM547.6 768.5h6v7h-6zM549.5 768.5h6v7h-6zM551.5 768.5h6v7h-6zM553.4 764.5h6v7h-6zM555.3 768.5h6v7h-6zM557.3 772.6h6v7h-6zM559.2 768.5h6v7h-6zM561.2 772.6h6v7h-6zM563.1 772.6h6v7h-6zM565.0 768.5h6v7h-6zM567.0 768.5h6v7h-6zM568.9 768.5h6v7h-6zM570.8 768.5h6v7h-6zM572.8 772.6h6v7h-6zM574.7 768.5h6v7h-6zM576.6 772.6h6v7h-6zM578.6 772.6h6v7h-6zM580.5 772.6h6v7h-6zM582.4 772.6h6v7h-6zM584.4 776.6h6v7h-6zM586.3 772.6h6v7h-6zM588.2 772.6h6v7h-6zM590.2 768.5h6v7h-6zM592.1 776.6h6v7h-6zM594.0 776.6h6v7h-6zM596.0 776.6h6v7h-6zM597.9 772.6h6v7h-6zM599.8 772.6h6v7h-6zM601.8 776.6h6v7h-6zM603.7 772.6h6v7h-6zM605.7 776.6h6v7h-6zM607.6 772.6h6v7h-6zM609.5 776.6h6v7h-6zM611.5 776.6h6v7h-6zM613.4 776.6h6v7h-6zM615.3 772.6h6v7h-6zM617.3 776.6h6v7h-6zM619.2 776.6h6v7h-6zM621.1 776.6h6v7h-6zM623.1 776.6h6v7h-6zM625.0 776.6h6v7h-6zM626.9 776.6h6v7h-6zM628.9 780.6h6v7h-6zM630.8 772.6h6v7h-6zM632.7 772.6h6v7h-6zM634.7 772.6h6v7h-6zM636.6 772.6h6v7h-6zM638.5 772.6h6v7h-6zM640.5 776.6h6v7h-6zM642.4 776.6h6v7h-6zM644.3 776.6h6v7h-6zM646.3 776.6h6v7h-6zM648.2 776.6h6v7h-6zM650.2 776.6h6v7h-6zM652.1 776.6h6v7h-6zM654.0 776.6h6v7h-6zM656.0 780.6h6v7h-6zM657.9 772.6h6v7h-6zM659.8 780.6h6v7h-6zM661.8 772.6h6v7h-6zM663.7 776.6h6v7h-6zM665.6 772.6h6v7h-6zM667.6 780.6h6v7h-6zM669.5 772.6h6v7h-6zM671.4 780.6h6v7h-6zM673.4 772.6h6v7h-6zM675.3 780.6h6v7h-6zM677.2 780.6h6v7h-6zM679.2 776.6h6v7h-6zM681.1 780.6h6v7h-6zM683.0 780.6h6v7h-6zM685.0 780.6h6v7h-6zM686.9 772.6h6v7h-6zM688.8 780.6h6v7h-6zM690.8 776.6h6v7h-6zM692.7 772.6h6v7h-6zM694.7 780.6h6v7h-6zM696.6 776.6h6v7h-6zM698.5 776.6h6v7h-6zM700.5 776.6h6v7h-6zM702.4 776.6h6v7h-6zM704.3 780.6h6v7h-6zM706.3 776.6h6v7h-6zM708.2 776.6h6v7h-6zM710.1 776.6h6v7h-6zM712.1 776.6h6v7h-6zM714.0 780.6h6v7h-6zM715.9 776.6h6v7h-6zM717.9 772.6h6v7h-6zM719.8 776.6h6v7h-6zM721.7 776.6h6v7h-6zM723.7 776.6h6v7h-6zM725.6 776.6h6v7h-6zM727.5 776.6h6v7h-6zM729.5 776.6h6v7h-6zM731.4 776.6h6v7h-6zM733.3 776.6h6v7h-6zM735.3 780.6h6v7h-6zM737.2 776.6h6v7h-6zM739.2 776.6h6v7h-6zM741.1 776.6h6v7h-6zM743.0 780.6h6v7h-6zM745.0 780.6h6v7h-6zM746.9 776.6h6v7h-6zM748.8 776.6h6v7h-6zM750.8 772.6h6v7h-6zM752.7 776.6h6v7h-6zM754.6 776.6h6v7h-6zM756.6 780.6h6v7h-6zM758.5 780.6h6v7h-6zM760.4 776.6h6v7h-6zM762.4 776.6h6v7h-6zM764.3 780.6h6v7h-6zM766.2 776.6h6v7h-6zM768.2 780.6h6v7h-6zM770.1 780.6h6v7h-6zM772.0 780.6h6v7h-6zM774.0 780.6h6v7h-6zM775.9 780.6h6v7h-6zM777.8 780.6h6v7h-6zM779.8 784.7h6v7h-6zM781.7 780.6h6v7h-6zM783.7 780.6h6v7h-6zM785.6 784.7h6v7h-6zM787.5 784.7h6v7h-6zM789.5 780.6h6v7h-6zM791.4 784.7h6v7h-6zM793.3 784.7h6v7h-6zM795.3 784.7h6v7h-6zM797.2 784.7h6v7h-6zM799.1 784.7h6v7h-6zM801.1 784.7h6v7h-6zM803.0 780.6h6v7h-6zM804.9 788.7h6v7h-6zM806.9 784.7h6v7h-6zM808.8 784.7h6v7h-6zM810.7 784.7h6v7h-6zM812.7 792.7h6v7h-6zM814.6 788.7h6v7h-6zM816.5 784.7h6v7h-6zM818.5 788.7h6v7h-6zM820.4 788.7h6v7h-6zM822.3 792.7h6v7h-6zM824.3 784.7h6v7h-6zM826.2 792.7h6v7h-6zM828.2 788.7h6v7h-6zM830.1 788.7h6v7h-6zM832.0 788.7h6v7h-6zM834.0 792.7h6v7h-6zM835.9 796.8h6v7h-6zM837.8 792.7h6v7h-6zM839.8 792.7h6v7h-6zM841.7 788.7h6v7h-6zM843.6 792.7h6v7h-6zM845.6 792.7h6v7h-6zM847.5 788.7h6v7h-6zM849.4 788.7h6v7h-6zM851.4 792.7h6v7h-6zM853.3 788.7h6v7h-6zM855.2 792.7h6v7h-6zM857.2 792.7h6v7h-6zM859.1 788.7h6v7h-6zM861.0 792.7h6v7h-6zM863.0 792.7h6v7h-6zM864.9 796.8h6v7h-6zM866.8 788.7h6v7h-6zM868.8 796.8h6v7h-6zM870.7 796.8h6v7h-6zM872.7 796.8h6v7h-6zM874.6 800.8h6v7h-6zM876.5 796.8h6v7h-6zM878.5 796.8h6v7h-6zM880.4 792.7h6v7h-6zM882.3 792.7h6v7h-6zM884.3 792.7h6v7h-6zM886.2 796.8h6v7h-6zM888.1 800.8h6v7h-6zM890.1 792.7h6v7h-6zM892.0 796.8h6v7h-6zM893.9 792.7h6v7h-6zM895.9 792.7h6v7h-6zM897.8 804.8h6v7h-6zM899.7 800.8h6v7h-6zM901.7 804.8h6v7h-6zM903.6 804.8h6v7h-6zM905.5 796.8h6v7h-6zM907.5 796.8h6v7h-6zM909.4 808.9h6v7h-6zM911.4 800.8h6v7h-6zM913.3 800.8h6v7h-6zM915.2 804.8h6v7h-6zM917.2 804.8h6v7h-6zM919.1 800.8h6v7h-6zM921.0 804.8h6v7h-6zM923.0 804.8h6v7h-6zM924.9 804.8h6v7h-6zM926.8 808.9h6v7h-6zM928.8 804.8h6v7h-6zM930.7 804.8h6v7h-6zM932.6 808.9h6v7h-6zM934.6 808.9h6v7h-6zM936.5 812.9h6v7h-6zM938.4 808.9h6v7h-6zM940.4 808.9h6v7h-6zM942.3 804.8h6v7h-6zM944.2 817.0h6v7h-6zM946.2 804.8h6v7h-6zM948.1 812.9h6v7h-6zM950.0 808.9h6v7h-6zM952.0 812.9h6v7h-6zM953.9 812.9h6v7h-6zM955.9 804.8h6v7h-6zM957.8 812.9h6v7h-6zM959.7 804.8h6v7h-6zM961.7 817.0h6v7h-6zM963.6 812.9h6v7h-6zM965.5 808.9h6v7h-6zM967.5 812.9h6v7h-6zM969.4 821.0h6v7h-6zM971.3 821.0h6v7h-6zM973.3 821.0h6v7h-6zM975.2 812.9h6v7h-6zM977.1 812.9h6v7h-6zM979.1 821.0h6v7h-6zM981.0 812.9h6v7h-6zM982.9 812.9h6v7h-6zM984.9 812.9h6v7h-6zM986.8 812.9h6v7h-6zM988.7 821.0h6v7h-6zM990.7 821.0h6v7h-6zM992.6 821.0h6v7h-6zM994.5 821.0h6v7h-6zM996.5 821.0h6v7h-6zM998.4 825.0h6v7h-6zM1000.4 817.0h6v7h-6zM1002.3 817.0h6v7h-6zM1004.2 812.9h6v7h-6zM1006.2 825.0h6v7h-6zM1008.1 817.0h6v7h-6zM1010.0 812.9h6v7h-6zM1012.0 821.0h6v7h-6zM1013.9 821.0h6v7h-6zM1015.8 825.0h6v7h-6zM1017.8 825.0h6v7h-6zM1019.7 817.0h6v7h-6zM1021.6 817.0h6v7h-6zM1023.6 821.0h6v7h-6zM1025.5 817.0h6v7h-6zM1027.4 821.0h6v7h-6zM1029.4 825.0h6v7h-6zM1031.3 825.0h6v7h-6zM1033.2 817.0h6v7h-6zM1035.2 817.0h6v7h-6zM1037.1 833.1h6v7h-6zM1039.0 821.0h6v7h-6zM1041.0 829.1h6v7h-6zM1042.9 829.1h6v7h-6zM1044.9 825.0h6v7h-6zM1046.8 821.0h6v7h-6zM1048.7 829.1h6v7h-6zM1050.7 821.0h6v7h-6zM1052.6 825.0h6v7h-6zM1054.5 829.1h6v7h-6zM1056.5 825.0h6v7h-6zM1058.4 829.1h6v7h-6zM1060.3 829.1h6v7h-6zM1062.3 821.0h6v7h-6zM1064.2 829.1h6v7h-6zM1066.1 825.0h6v7h-6zM1068.1 821.0h6v7h-6zM1070.0 829.1h6v7h-6zM1071.9 829.1h6v7h-6zM1073.9 829.1h6v7h-6zM1075.8 821.0h6v7h-6zM1077.7 837.1h6v7h-6zM1079.7 837.1h6v7h-6zM1081.6 837.1h6v7h-6zM1083.5 837.1h6v7h-6zM1085.5 825.0h6v7h-6zM1087.4 837.1h6v7h-6zM1089.4 829.1h6v7h-6zM1091.3 849.2h6v7h-6zM1093.2 833.1h6v7h-6zM1095.2 841.2h6v7h-6zM1097.1 829.1h6v7h-6zM1099.0 829.1h6v7h-6zM1101.0 833.1h6v7h-6zM1102.9 845.2h6v7h-6zM1104.8 841.2h6v7h-6zM1106.8 841.2h6v7h-6zM1108.7 829.1h6v7h-6zM1110.6 849.2h6v7h-6zM1112.6 833.1h6v7h-6zM1114.5 853.3h6v7h-6zM1116.4 853.3h6v7h-6zM1118.4 845.2h6v7h-6zM1120.3 849.2h6v7h-6zM1122.2 833.1h6v7h-6zM1124.2 853.3h6v7h-6zM1126.1 845.2h6v7h-6zM1128.0 849.2h6v7h-6zM1130.0 837.1h6v7h-6zM1131.9 841.2h6v7h-6zM1133.9 837.1h6v7h-6zM1135.8 841.2h6v7h-6zM1137.7 845.2h6v7h-6zM1139.7 845.2h6v7h-6zM1141.6 853.3h6v7h-6zM1143.5 849.2h6v7h-6zM1145.5 845.2h6v7h-6zM1147.4 845.2h6v7h-6zM1149.3 857.3h6v7h-6zM1151.3 841.2h6v7h-6zM1153.2 853.3h6v7h-6zM1155.1 837.1h6v7h-6zM1157.1 841.2h6v7h-6zM1159.0 849.2h6v7h-6zM1160.9 845.2h6v7h-6zM1162.9 857.3h6v7h-6zM1164.8 857.3h6v7h-6zM1166.7 837.1h6v7h-6zM1168.7 841.2h6v7h-6zM1170.6 849.2h6v7h-6zM1172.5 861.3h6v7h-6zM1174.5 857.3h6v7h-6zM1176.4 853.3h6v7h-6zM1178.4 841.2h6v7h-6zM1180.3 845.2h6v7h-6zM1182.2 841.2h6v7h-6zM1184.2 841.2h6v7h-6zM1186.1 853.3h6v7h-6zM1188.0 857.3h6v7h-6zM1190.0 845.2h6v7h-6zM1191.9 853.3h6v7h-6zM1193.8 865.4h6v7h-6zM1195.8 853.3h6v7h-6zM1197.7 853.3h6v7h-6zM1199.6 857.3h6v7h-6zM1201.6 857.3h6v7h-6zM1203.5 853.3h6v7h-6zM1205.4 853.3h6v7h-6zM1207.4 853.3h6v7h-6zM1209.3 857.3h6v7h-6zM1211.2 853.3h6v7h-6zM1213.2 865.4h6v7h-6zM1215.1 861.3h6v7h-6zM1217.0 865.4h6v7h-6zM1219.0 869.4h6v7h-6zM1220.9 869.4h6v7h-6zM1222.9 865.4h6v7h-6zM1224.8 861.3h6v7h-6zM1226.7 857.3h6v7h-6zM1228.7 869.4h6v7h-6zM1230.6 853.3h6v7h-6zM1232.5 853.3h6v7h-6zM1234.5 853.3h6v7h-6zM1236.4 861.3h6v7h-6zM1238.3 861.3h6v7h-6zM1240.3 865.4h6v7h-6zM1242.2 857.3h6v7h-6zM1244.1 849.2h6v7h-6zM1246.1 865.4h6v7h-6zM1248.0 869.4h6v7h-6zM1249.9 861.3h6v7h-6zM1251.9 861.3h6v7h-6zM1253.8 865.4h6v7h-6zM1255.7 873.4h6v7h-6zM1257.7 861.3h6v7h-6zM1259.6 853.3h6v7h-6zM1261.5 861.3h6v7h-6zM1263.5 861.3h6v7h-6zM1265.4 853.3h6v7h-6zM1267.4 869.4h6v7h-6zM1269.3 857.3h6v7h-6zM1271.2 869.4h6v7h-6zM1273.2 865.4h6v7h-6zM1275.1 861.3h6v7h-6zM1277.0 877.5h6v7h-6zM1279.0 861.3h6v7h-6zM1280.9 861.3h6v7h-6zM1282.8 869.4h6v7h-6zM1284.8 873.4h6v7h-6zM1286.7 865.4h6v7h-6zM1288.6 861.3h6v7h-6zM1290.6 873.4h6v7h-6zM1292.5 869.4h6v7h-6zM1294.4 877.5h6v7h-6zM1296.4 865.4h6v7h-6zM1298.3 869.4h6v7h-6zM1300.2 865.4h6v7h-6zM1302.2 857.3h6v7h-6zM334.8 792.7h6v7h-6zM336.7 796.8h6v7h-6zM338.6 792.7h6v7h-6zM340.6 792.7h6v7h-6zM342.5 792.7h6v7h-6zM344.5 800.8h6v7h-6zM346.4 796.8h6v7h-6zM348.3 796.8h6v7h-6zM350.3 796.8h6v7h-6zM352.2 796.8h6v7h-6zM354.1 796.8h6v7h-6zM356.1 796.8h6v7h-6zM358.0 800.8h6v7h-6zM359.9 800.8h6v7h-6zM361.9 796.8h6v7h-6zM363.8 800.8h6v7h-6zM365.7 800.8h6v7h-6zM367.7 800.8h6v7h-6zM369.6 800.8h6v7h-6zM371.5 796.8h6v7h-6zM373.5 804.8h6v7h-6zM375.4 804.8h6v7h-6zM377.3 800.8h6v7h-6zM379.3 804.8h6v7h-6zM381.2 808.9h6v7h-6zM383.2 804.8h6v7h-6zM385.1 804.8h6v7h-6zM387.0 800.8h6v7h-6zM389.0 804.8h6v7h-6zM390.9 804.8h6v7h-6zM392.8 808.9h6v7h-6zM394.8 804.8h6v7h-6zM396.7 808.9h6v7h-6zM398.6 808.9h6v7h-6zM400.6 808.9h6v7h-6zM402.5 808.9h6v7h-6zM404.4 804.8h6v7h-6zM406.4 808.9h6v7h-6zM408.3 808.9h6v7h-6zM410.2 808.9h6v7h-6zM412.2 812.9h6v7h-6zM414.1 812.9h6v7h-6zM416.0 812.9h6v7h-6zM418.0 812.9h6v7h-6zM419.9 812.9h6v7h-6zM421.8 812.9h6v7h-6zM423.8 817.0h6v7h-6zM425.7 812.9h6v7h-6zM427.7 812.9h6v7h-6zM429.6 812.9h6v7h-6zM431.5 817.0h6v7h-6zM433.5 817.0h6v7h-6zM435.4 812.9h6v7h-6zM437.3 817.0h6v7h-6zM439.3 817.0h6v7h-6zM441.2 812.9h6v7h-6zM443.1 817.0h6v7h-6zM445.1 817.0h6v7h-6zM447.0 817.0h6v7h-6zM448.9 812.9h6v7h-6zM450.9 821.0h6v7h-6zM452.8 821.0h6v7h-6zM454.7 817.0h6v7h-6zM456.7 825.0h6v7h-6zM458.6 821.0h6v7h-6zM460.5 821.0h6v7h-6zM462.5 825.0h6v7h-6zM464.4 817.0h6v7h-6zM466.3 825.0h6v7h-6zM468.3 821.0h6v7h-6zM470.2 821.0h6v7h-6zM472.2 825.0h6v7h-6zM474.1 821.0h6v7h-6zM476.0 821.0h6v7h-6zM478.0 825.0h6v7h-6zM479.9 821.0h6v7h-6zM481.8 825.0h6v7h-6zM483.8 817.0h6v7h-6zM485.7 821.0h6v7h-6zM487.6 821.0h6v7h-6zM489.6 825.0h6v7h-6zM491.5 829.1h6v7h-6zM493.4 825.0h6v7h-6zM495.4 825.0h6v7h-6zM497.3 825.0h6v7h-6zM499.2 825.0h6v7h-6zM501.2 825.0h6v7h-6zM503.1 821.0h6v7h-6zM505.0 829.1h6v7h-6zM507.0 825.0h6v7h-6zM508.9 829.1h6v7h-6zM510.8 821.0h6v7h-6zM512.8 821.0h6v7h-6zM514.7 829.1h6v7h-6zM516.7 821.0h6v7h-6zM518.6 829.1h6v7h-6zM520.5 829.1h6v7h-6zM522.5 825.0h6v7h-6zM524.4 829.1h6v7h-6zM526.3 829.1h6v7h-6zM528.3 829.1h6v7h-6zM530.2 825.0h6v7h-6zM532.1 829.1h6v7h-6zM534.1 833.1h6v7h-6zM536.0 829.1h6v7h-6zM537.9 829.1h6v7h-6zM539.9 829.1h6v7h-6zM541.8 825.0h6v7h-6zM543.7 829.1h6v7h-6zM545.7 829.1h6v7h-6zM547.6 833.1h6v7h-6zM549.5 825.0h6v7h-6zM551.5 825.0h6v7h-6zM553.4 829.1h6v7h-6zM555.3 833.1h6v7h-6zM557.3 833.1h6v7h-6zM559.2 833.1h6v7h-6zM561.2 829.1h6v7h-6zM563.1 829.1h6v7h-6zM565.0 829.1h6v7h-6zM567.0 829.1h6v7h-6zM568.9 829.1h6v7h-6zM570.8 829.1h6v7h-6zM572.8 833.1h6v7h-6zM574.7 833.1h6v7h-6zM576.6 833.1h6v7h-6zM578.6 833.1h6v7h-6zM580.5 837.1h6v7h-6zM582.4 833.1h6v7h-6zM584.4 833.1h6v7h-6zM586.3 833.1h6v7h-6zM588.2 829.1h6v7h-6zM590.2 833.1h6v7h-6zM592.1 833.1h6v7h-6zM594.0 833.1h6v7h-6zM596.0 833.1h6v7h-6zM597.9 837.1h6v7h-6zM599.8 833.1h6v7h-6zM601.8 837.1h6v7h-6zM603.7 833.1h6v7h-6zM605.7 829.1h6v7h-6zM607.6 837.1h6v7h-6zM609.5 833.1h6v7h-6zM611.5 829.1h6v7h-6zM613.4 833.1h6v7h-6zM615.3 833.1h6v7h-6zM617.3 837.1h6v7h-6zM619.2 833.1h6v7h-6zM621.1 837.1h6v7h-6zM623.1 837.1h6v7h-6zM625.0 833.1h6v7h-6zM626.9 833.1h6v7h-6zM628.9 837.1h6v7h-6zM630.8 833.1h6v7h-6zM632.7 833.1h6v7h-6zM634.7 833.1h6v7h-6zM636.6 837.1h6v7h-6zM638.5 837.1h6v7h-6zM640.5 837.1h6v7h-6zM642.4 837.1h6v7h-6zM644.3 833.1h6v7h-6zM646.3 833.1h6v7h-6zM648.2 833.1h6v7h-6zM650.2 837.1h6v7h-6zM652.1 837.1h6v7h-6zM654.0 837.1h6v7h-6zM656.0 837.1h6v7h-6zM657.9 837.1h6v7h-6zM659.8 837.1h6v7h-6zM661.8 837.1h6v7h-6zM663.7 833.1h6v7h-6zM665.6 833.1h6v7h-6zM667.6 837.1h6v7h-6zM669.5 841.2h6v7h-6zM671.4 841.2h6v7h-6zM673.4 837.1h6v7h-6zM675.3 837.1h6v7h-6zM677.2 837.1h6v7h-6zM679.2 837.1h6v7h-6zM681.1 837.1h6v7h-6zM683.0 837.1h6v7h-6zM685.0 841.2h6v7h-6zM686.9 837.1h6v7h-6zM688.8 841.2h6v7h-6zM690.8 833.1h6v7h-6zM692.7 833.1h6v7h-6zM694.7 837.1h6v7h-6zM696.6 837.1h6v7h-6zM698.5 837.1h6v7h-6zM700.5 841.2h6v7h-6zM702.4 837.1h6v7h-6zM704.3 841.2h6v7h-6zM706.3 841.2h6v7h-6zM708.2 833.1h6v7h-6zM710.1 837.1h6v7h-6zM712.1 837.1h6v7h-6zM714.0 841.2h6v7h-6zM715.9 837.1h6v7h-6zM717.9 837.1h6v7h-6zM719.8 837.1h6v7h-6zM721.7 833.1h6v7h-6zM723.7 833.1h6v7h-6zM725.6 837.1h6v7h-6zM727.5 837.1h6v7h-6zM729.5 841.2h6v7h-6zM731.4 837.1h6v7h-6zM733.3 833.1h6v7h-6zM735.3 837.1h6v7h-6zM737.2 837.1h6v7h-6zM739.2 837.1h6v7h-6zM741.1 837.1h6v7h-6zM743.0 837.1h6v7h-6zM745.0 833.1h6v7h-6zM746.9 833.1h6v7h-6zM748.8 833.1h6v7h-6zM750.8 841.2h6v7h-6zM752.7 837.1h6v7h-6zM754.6 837.1h6v7h-6zM756.6 833.1h6v7h-6zM758.5 837.1h6v7h-6zM760.4 837.1h6v7h-6zM762.4 841.2h6v7h-6zM764.3 837.1h6v7h-6zM766.2 841.2h6v7h-6zM768.2 837.1h6v7h-6zM770.1 837.1h6v7h-6zM772.0 841.2h6v7h-6zM774.0 837.1h6v7h-6zM775.9 841.2h6v7h-6zM777.8 833.1h6v7h-6zM779.8 841.2h6v7h-6zM781.7 841.2h6v7h-6zM783.7 845.2h6v7h-6zM785.6 833.1h6v7h-6zM787.5 841.2h6v7h-6zM789.5 841.2h6v7h-6zM791.4 841.2h6v7h-6zM793.3 837.1h6v7h-6zM795.3 841.2h6v7h-6zM797.2 841.2h6v7h-6zM799.1 841.2h6v7h-6zM801.1 841.2h6v7h-6zM803.0 841.2h6v7h-6zM804.9 841.2h6v7h-6zM806.9 841.2h6v7h-6zM808.8 837.1h6v7h-6zM810.7 837.1h6v7h-6zM812.7 845.2h6v7h-6zM814.6 837.1h6v7h-6zM816.5 841.2h6v7h-6zM818.5 837.1h6v7h-6zM820.4 841.2h6v7h-6zM822.3 837.1h6v7h-6zM824.3 841.2h6v7h-6zM826.2 837.1h6v7h-6zM828.2 837.1h6v7h-6zM830.1 841.2h6v7h-6zM832.0 845.2h6v7h-6zM834.0 845.2h6v7h-6zM835.9 841.2h6v7h-6zM837.8 837.1h6v7h-6zM839.8 841.2h6v7h-6zM841.7 845.2h6v7h-6zM843.6 841.2h6v7h-6zM845.6 845.2h6v7h-6zM847.5 841.2h6v7h-6zM849.4 845.2h6v7h-6zM851.4 841.2h6v7h-6zM853.3 841.2h6v7h-6zM855.2 845.2h6v7h-6zM857.2 845.2h6v7h-6zM859.1 845.2h6v7h-6zM861.0 841.2h6v7h-6zM863.0 841.2h6v7h-6zM864.9 845.2h6v7h-6zM866.8 837.1h6v7h-6zM868.8 849.2h6v7h-6zM870.7 845.2h6v7h-6zM872.7 845.2h6v7h-6zM874.6 841.2h6v7h-6zM876.5 849.2h6v7h-6zM878.5 845.2h6v7h-6zM880.4 853.3h6v7h-6zM882.3 845.2h6v7h-6zM884.3 841.2h6v7h-6zM886.2 849.2h6v7h-6zM888.1 845.2h6v7h-6zM890.1 845.2h6v7h-6zM892.0 845.2h6v7h-6zM893.9 845.2h6v7h-6zM895.9 849.2h6v7h-6zM897.8 849.2h6v7h-6zM899.7 849.2h6v7h-6zM901.7 845.2h6v7h-6zM903.6 841.2h6v7h-6zM905.5 845.2h6v7h-6zM907.5 849.2h6v7h-6zM909.4 853.3h6v7h-6zM911.4 853.3h6v7h-6zM913.3 841.2h6v7h-6zM915.2 849.2h6v7h-6zM917.2 845.2h6v7h-6zM919.1 845.2h6v7h-6zM921.0 849.2h6v7h-6zM923.0 849.2h6v7h-6zM924.9 849.2h6v7h-6zM926.8 845.2h6v7h-6zM928.8 849.2h6v7h-6zM930.7 853.3h6v7h-6zM932.6 857.3h6v7h-6zM934.6 845.2h6v7h-6zM936.5 845.2h6v7h-6zM938.4 849.2h6v7h-6zM940.4 845.2h6v7h-6zM942.3 853.3h6v7h-6zM944.2 845.2h6v7h-6zM946.2 849.2h6v7h-6zM948.1 845.2h6v7h-6zM950.0 849.2h6v7h-6zM952.0 853.3h6v7h-6zM953.9 857.3h6v7h-6zM955.9 849.2h6v7h-6zM957.8 853.3h6v7h-6zM959.7 845.2h6v7h-6zM961.7 845.2h6v7h-6zM963.6 849.2h6v7h-6zM965.5 849.2h6v7h-6zM967.5 853.3h6v7h-6zM969.4 857.3h6v7h-6zM971.3 845.2h6v7h-6zM973.3 857.3h6v7h-6zM975.2 845.2h6v7h-6zM977.1 861.3h6v7h-6zM979.1 853.3h6v7h-6zM981.0 853.3h6v7h-6zM982.9 853.3h6v7h-6zM984.9 853.3h6v7h-6zM986.8 853.3h6v7h-6zM988.7 849.2h6v7h-6zM990.7 857.3h6v7h-6zM992.6 857.3h6v7h-6zM994.5 857.3h6v7h-6zM996.5 853.3h6v7h-6zM998.4 857.3h6v7h-6zM1000.4 849.2h6v7h-6zM1002.3 865.4h6v7h-6zM1004.2 849.2h6v7h-6zM1006.2 853.3h6v7h-6zM1008.1 861.3h6v7h-6zM1010.0 861.3h6v7h-6zM1012.0 849.2h6v7h-6zM1013.9 845.2h6v7h-6zM1015.8 849.2h6v7h-6zM1017.8 849.2h6v7h-6zM1019.7 853.3h6v7h-6zM1021.6 857.3h6v7h-6zM1023.6 861.3h6v7h-6zM1025.5 861.3h6v7h-6zM1027.4 853.3h6v7h-6zM1029.4 861.3h6v7h-6zM1031.3 861.3h6v7h-6zM1033.2 865.4h6v7h-6zM1035.2 857.3h6v7h-6zM1037.1 853.3h6v7h-6zM1039.0 861.3h6v7h-6zM1041.0 869.4h6v7h-6zM1042.9 853.3h6v7h-6zM1044.9 869.4h6v7h-6zM1046.8 869.4h6v7h-6zM1048.7 857.3h6v7h-6zM1050.7 849.2h6v7h-6zM1052.6 857.3h6v7h-6zM1054.5 857.3h6v7h-6zM1056.5 861.3h6v7h-6zM1058.4 849.2h6v7h-6zM1060.3 869.4h6v7h-6zM1062.3 869.4h6v7h-6zM1064.2 857.3h6v7h-6zM1066.1 849.2h6v7h-6zM1068.1 861.3h6v7h-6zM1070.0 865.4h6v7h-6zM1071.9 869.4h6v7h-6zM1073.9 865.4h6v7h-6zM1075.8 861.3h6v7h-6zM1077.7 853.3h6v7h-6zM1079.7 865.4h6v7h-6zM1081.6 869.4h6v7h-6zM1083.5 861.3h6v7h-6zM1085.5 865.4h6v7h-6zM1087.4 865.4h6v7h-6zM1089.4 861.3h6v7h-6zM1091.3 853.3h6v7h-6zM1093.2 865.4h6v7h-6zM1095.2 853.3h6v7h-6zM1097.1 873.4h6v7h-6zM1099.0 857.3h6v7h-6zM1101.0 869.4h6v7h-6zM1102.9 857.3h6v7h-6zM1104.8 865.4h6v7h-6zM1106.8 861.3h6v7h-6zM1108.7 869.4h6v7h-6zM1110.6 861.3h6v7h-6zM1112.6 853.3h6v7h-6zM1114.5 865.4h6v7h-6zM1116.4 861.3h6v7h-6zM1118.4 857.3h6v7h-6zM1120.3 861.3h6v7h-6zM1122.2 857.3h6v7h-6zM1124.2 869.4h6v7h-6zM1126.1 865.4h6v7h-6zM1128.0 865.4h6v7h-6zM1130.0 877.5h6v7h-6zM1131.9 869.4h6v7h-6zM1133.9 869.4h6v7h-6zM1135.8 873.4h6v7h-6zM1137.7 865.4h6v7h-6zM1139.7 865.4h6v7h-6zM1141.6 873.4h6v7h-6zM1143.5 877.5h6v7h-6zM1145.5 857.3h6v7h-6zM1147.4 869.4h6v7h-6zM1149.3 865.4h6v7h-6zM1151.3 865.4h6v7h-6zM1153.2 877.5h6v7h-6zM1155.1 865.4h6v7h-6zM1157.1 877.5h6v7h-6zM1159.0 865.4h6v7h-6zM1160.9 869.4h6v7h-6zM1162.9 877.5h6v7h-6zM1164.8 865.4h6v7h-6zM1166.7 869.4h6v7h-6zM1168.7 861.3h6v7h-6zM1170.6 865.4h6v7h-6zM1172.5 877.5h6v7h-6zM1174.5 877.5h6v7h-6zM1176.4 865.4h6v7h-6zM1178.4 865.4h6v7h-6zM1180.3 885.5h6v7h-6zM1182.2 869.4h6v7h-6zM1184.2 865.4h6v7h-6zM1186.1 877.5h6v7h-6zM1188.0 869.4h6v7h-6zM1190.0 869.4h6v7h-6zM1191.9 881.5h6v7h-6zM1193.8 881.5h6v7h-6zM1195.8 873.4h6v7h-6zM1197.7 885.5h6v7h-6zM1199.6 873.4h6v7h-6zM1201.6 873.4h6v7h-6zM1203.5 873.4h6v7h-6zM1205.4 873.4h6v7h-6zM1207.4 877.5h6v7h-6zM1209.3 877.5h6v7h-6zM1211.2 869.4h6v7h-6zM1213.2 877.5h6v7h-6zM1215.1 873.4h6v7h-6zM1217.0 873.4h6v7h-6zM1219.0 873.4h6v7h-6zM1220.9 885.5h6v7h-6zM1222.9 877.5h6v7h-6zM1224.8 885.5h6v7h-6zM1226.7 889.6h6v7h-6zM1228.7 877.5h6v7h-6zM1230.6 873.4h6v7h-6zM1232.5 873.4h6v7h-6zM1234.5 881.5h6v7h-6zM1236.4 885.5h6v7h-6zM1238.3 889.6h6v7h-6zM1240.3 869.4h6v7h-6zM1242.2 885.5h6v7h-6zM1244.1 885.5h6v7h-6zM1246.1 889.6h6v7h-6zM1248.0 881.5h6v7h-6zM1249.9 877.5h6v7h-6zM1251.9 869.4h6v7h-6zM1253.8 873.4h6v7h-6zM1255.7 873.4h6v7h-6zM1257.7 873.4h6v7h-6zM1259.6 873.4h6v7h-6zM1261.5 869.4h6v7h-6zM1263.5 881.5h6v7h-6zM1265.4 881.5h6v7h-6zM1267.4 885.5h6v7h-6zM1269.3 881.5h6v7h-6zM1271.2 889.6h6v7h-6zM1273.2 889.6h6v7h-6zM1275.1 869.4h6v7h-6zM1277.0 881.5h6v7h-6zM1279.0 873.4h6v7h-6zM1280.9 873.4h6v7h-6zM1282.8 885.5h6v7h-6zM1284.8 881.5h6v7h-6zM1286.7 893.6h6v7h-6zM1288.6 893.6h6v7h-6zM1290.6 885.5h6v7h-6zM1292.5 881.5h6v7h-6zM1294.4 881.5h6v7h-6zM1296.4 881.5h6v7h-6zM1298.3 889.6h6v7h-6zM1300.2 877.5h6v7h-6zM1302.2 889.6h6v7h-6zM334.8 849.2h6v7h-6zM336.7 853.3h6v7h-6zM338.6 853.3h6v7h-6zM340.6 857.3h6v7h-6zM342.5 853.3h6v7h-6zM344.5 849.2h6v7h-6zM346.4 849.2h6v7h-6zM348.3 853.3h6v7h-6zM350.3 849.2h6v7h-6zM352.2 849.2h6v7h-6zM354.1 853.3h6v7h-6zM356.1 849.2h6v7h-6zM358.0 853.3h6v7h-6zM359.9 857.3h6v7h-6zM361.9 853.3h6v7h-6zM363.8 853.3h6v7h-6zM365.7 849.2h6v7h-6zM367.7 853.3h6v7h-6zM369.6 853.3h6v7h-6zM371.5 853.3h6v7h-6zM373.5 853.3h6v7h-6zM375.4 857.3h6v7h-6zM377.3 853.3h6v7h-6zM379.3 853.3h6v7h-6zM381.2 857.3h6v7h-6zM383.2 857.3h6v7h-6zM385.1 857.3h6v7h-6zM387.0 857.3h6v7h-6zM389.0 853.3h6v7h-6zM390.9 857.3h6v7h-6zM392.8 857.3h6v7h-6zM394.8 853.3h6v7h-6zM396.7 861.3h6v7h-6zM398.6 857.3h6v7h-6zM400.6 861.3h6v7h-6zM402.5 853.3h6v7h-6zM404.4 857.3h6v7h-6zM406.4 857.3h6v7h-6zM408.3 857.3h6v7h-6zM410.2 861.3h6v7h-6zM412.2 857.3h6v7h-6zM414.1 861.3h6v7h-6zM416.0 857.3h6v7h-6zM418.0 861.3h6v7h-6zM419.9 861.3h6v7h-6zM421.8 861.3h6v7h-6zM423.8 865.4h6v7h-6zM425.7 861.3h6v7h-6zM427.7 865.4h6v7h-6zM429.6 857.3h6v7h-6zM431.5 861.3h6v7h-6zM433.5 861.3h6v7h-6zM435.4 861.3h6v7h-6zM437.3 861.3h6v7h-6zM439.3 861.3h6v7h-6zM441.2 857.3h6v7h-6zM443.1 861.3h6v7h-6zM445.1 861.3h6v7h-6zM447.0 861.3h6v7h-6zM448.9 865.4h6v7h-6zM450.9 869.4h6v7h-6zM452.8 865.4h6v7h-6zM454.7 865.4h6v7h-6zM456.7 865.4h6v7h-6zM458.6 865.4h6v7h-6zM460.5 865.4h6v7h-6zM462.5 865.4h6v7h-6zM464.4 865.4h6v7h-6zM466.3 865.4h6v7h-6zM468.3 869.4h6v7h-6zM470.2 865.4h6v7h-6zM472.2 869.4h6v7h-6zM474.1 861.3h6v7h-6zM476.0 865.4h6v7h-6zM478.0 865.4h6v7h-6zM479.9 865.4h6v7h-6zM481.8 861.3h6v7h-6zM483.8 861.3h6v7h-6zM485.7 861.3h6v7h-6zM487.6 865.4h6v7h-6zM489.6 869.4h6v7h-6zM491.5 869.4h6v7h-6zM493.4 865.4h6v7h-6zM495.4 869.4h6v7h-6zM497.3 865.4h6v7h-6zM499.2 869.4h6v7h-6zM501.2 865.4h6v7h-6zM503.1 865.4h6v7h-6zM505.0 865.4h6v7h-6zM507.0 869.4h6v7h-6zM508.9 869.4h6v7h-6zM510.8 869.4h6v7h-6zM512.8 865.4h6v7h-6zM514.7 869.4h6v7h-6zM516.7 869.4h6v7h-6zM518.6 869.4h6v7h-6zM520.5 873.4h6v7h-6zM522.5 869.4h6v7h-6zM524.4 869.4h6v7h-6zM526.3 869.4h6v7h-6zM528.3 869.4h6v7h-6zM530.2 869.4h6v7h-6zM532.1 873.4h6v7h-6zM534.1 869.4h6v7h-6zM536.0 869.4h6v7h-6zM537.9 873.4h6v7h-6zM539.9 869.4h6v7h-6zM541.8 869.4h6v7h-6zM543.7 869.4h6v7h-6zM545.7 865.4h6v7h-6zM547.6 869.4h6v7h-6zM549.5 869.4h6v7h-6zM551.5 873.4h6v7h-6zM553.4 869.4h6v7h-6zM555.3 873.4h6v7h-6zM557.3 873.4h6v7h-6zM559.2 873.4h6v7h-6zM561.2 869.4h6v7h-6zM563.1 873.4h6v7h-6zM565.0 869.4h6v7h-6zM567.0 869.4h6v7h-6zM568.9 873.4h6v7h-6zM570.8 869.4h6v7h-6zM572.8 873.4h6v7h-6zM574.7 873.4h6v7h-6zM576.6 869.4h6v7h-6zM578.6 873.4h6v7h-6zM580.5 869.4h6v7h-6zM582.4 873.4h6v7h-6zM584.4 873.4h6v7h-6zM586.3 869.4h6v7h-6zM588.2 873.4h6v7h-6zM590.2 873.4h6v7h-6zM592.1 873.4h6v7h-6zM594.0 873.4h6v7h-6zM596.0 869.4h6v7h-6zM597.9 877.5h6v7h-6zM599.8 873.4h6v7h-6zM601.8 873.4h6v7h-6zM603.7 873.4h6v7h-6zM605.7 873.4h6v7h-6zM607.6 873.4h6v7h-6zM609.5 873.4h6v7h-6zM611.5 877.5h6v7h-6zM613.4 873.4h6v7h-6zM615.3 869.4h6v7h-6zM617.3 873.4h6v7h-6zM619.2 877.5h6v7h-6zM621.1 873.4h6v7h-6zM623.1 869.4h6v7h-6zM625.0 877.5h6v7h-6zM626.9 873.4h6v7h-6zM628.9 873.4h6v7h-6zM630.8 877.5h6v7h-6zM632.7 873.4h6v7h-6zM634.7 869.4h6v7h-6zM636.6 877.5h6v7h-6zM638.5 873.4h6v7h-6zM640.5 877.5h6v7h-6zM642.4 873.4h6v7h-6zM644.3 877.5h6v7h-6zM646.3 873.4h6v7h-6zM648.2 869.4h6v7h-6zM650.2 877.5h6v7h-6zM652.1 873.4h6v7h-6zM654.0 877.5h6v7h-6zM656.0 873.4h6v7h-6zM657.9 877.5h6v7h-6zM659.8 873.4h6v7h-6zM661.8 869.4h6v7h-6zM663.7 873.4h6v7h-6zM665.6 877.5h6v7h-6zM667.6 873.4h6v7h-6zM669.5 873.4h6v7h-6zM671.4 877.5h6v7h-6zM673.4 873.4h6v7h-6zM675.3 877.5h6v7h-6zM677.2 877.5h6v7h-6zM679.2 873.4h6v7h-6zM681.1 873.4h6v7h-6zM683.0 873.4h6v7h-6zM685.0 877.5h6v7h-6zM686.9 873.4h6v7h-6zM688.8 873.4h6v7h-6zM690.8 873.4h6v7h-6zM692.7 873.4h6v7h-6zM694.7 873.4h6v7h-6zM696.6 873.4h6v7h-6zM698.5 881.5h6v7h-6zM700.5 877.5h6v7h-6zM702.4 873.4h6v7h-6zM704.3 877.5h6v7h-6zM706.3 881.5h6v7h-6zM708.2 877.5h6v7h-6zM710.1 877.5h6v7h-6zM712.1 873.4h6v7h-6zM714.0 873.4h6v7h-6zM715.9 873.4h6v7h-6zM717.9 877.5h6v7h-6zM719.8 873.4h6v7h-6zM721.7 873.4h6v7h-6zM723.7 877.5h6v7h-6zM725.6 873.4h6v7h-6zM727.5 873.4h6v7h-6zM729.5 877.5h6v7h-6zM731.4 877.5h6v7h-6zM733.3 877.5h6v7h-6zM735.3 877.5h6v7h-6zM737.2 881.5h6v7h-6zM739.2 877.5h6v7h-6zM741.1 877.5h6v7h-6zM743.0 881.5h6v7h-6zM745.0 881.5h6v7h-6zM746.9 877.5h6v7h-6zM748.8 873.4h6v7h-6zM750.8 877.5h6v7h-6zM752.7 873.4h6v7h-6zM754.6 877.5h6v7h-6zM756.6 873.4h6v7h-6zM758.5 873.4h6v7h-6zM760.4 881.5h6v7h-6zM762.4 877.5h6v7h-6zM764.3 881.5h6v7h-6zM766.2 877.5h6v7h-6zM768.2 877.5h6v7h-6zM770.1 877.5h6v7h-6zM772.0 877.5h6v7h-6zM774.0 877.5h6v7h-6zM775.9 881.5h6v7h-6zM777.8 881.5h6v7h-6zM779.8 877.5h6v7h-6zM781.7 873.4h6v7h-6zM783.7 877.5h6v7h-6zM785.6 881.5h6v7h-6zM787.5 877.5h6v7h-6zM789.5 877.5h6v7h-6zM791.4 881.5h6v7h-6zM793.3 881.5h6v7h-6zM795.3 873.4h6v7h-6zM797.2 881.5h6v7h-6zM799.1 881.5h6v7h-6zM801.1 877.5h6v7h-6zM803.0 877.5h6v7h-6zM804.9 877.5h6v7h-6zM806.9 881.5h6v7h-6zM808.8 873.4h6v7h-6zM810.7 881.5h6v7h-6zM812.7 877.5h6v7h-6zM814.6 881.5h6v7h-6zM816.5 881.5h6v7h-6zM818.5 877.5h6v7h-6zM820.4 877.5h6v7h-6zM822.3 881.5h6v7h-6zM824.3 877.5h6v7h-6zM826.2 881.5h6v7h-6zM828.2 877.5h6v7h-6zM830.1 873.4h6v7h-6zM832.0 877.5h6v7h-6zM834.0 873.4h6v7h-6zM835.9 873.4h6v7h-6zM837.8 881.5h6v7h-6zM839.8 873.4h6v7h-6zM841.7 873.4h6v7h-6zM843.6 881.5h6v7h-6zM845.6 877.5h6v7h-6zM847.5 877.5h6v7h-6zM849.4 873.4h6v7h-6zM851.4 873.4h6v7h-6zM853.3 877.5h6v7h-6zM855.2 885.5h6v7h-6zM857.2 881.5h6v7h-6zM859.1 873.4h6v7h-6zM861.0 881.5h6v7h-6zM863.0 881.5h6v7h-6zM864.9 881.5h6v7h-6zM866.8 873.4h6v7h-6zM868.8 877.5h6v7h-6zM870.7 885.5h6v7h-6zM872.7 877.5h6v7h-6zM874.6 881.5h6v7h-6zM876.5 877.5h6v7h-6zM878.5 873.4h6v7h-6zM880.4 877.5h6v7h-6zM882.3 885.5h6v7h-6zM884.3 885.5h6v7h-6zM886.2 877.5h6v7h-6zM888.1 877.5h6v7h-6zM890.1 877.5h6v7h-6zM892.0 873.4h6v7h-6zM893.9 881.5h6v7h-6zM895.9 885.5h6v7h-6zM897.8 885.5h6v7h-6zM899.7 877.5h6v7h-6zM901.7 885.5h6v7h-6zM903.6 885.5h6v7h-6zM905.5 877.5h6v7h-6zM907.5 881.5h6v7h-6zM909.4 877.5h6v7h-6zM911.4 881.5h6v7h-6zM913.3 889.6h6v7h-6zM915.2 877.5h6v7h-6zM917.2 873.4h6v7h-6zM919.1 885.5h6v7h-6zM921.0 881.5h6v7h-6zM923.0 873.4h6v7h-6zM924.9 877.5h6v7h-6zM926.8 877.5h6v7h-6zM928.8 877.5h6v7h-6zM930.7 881.5h6v7h-6zM932.6 885.5h6v7h-6zM934.6 881.5h6v7h-6zM936.5 881.5h6v7h-6zM938.4 877.5h6v7h-6zM940.4 885.5h6v7h-6zM942.3 889.6h6v7h-6zM944.2 881.5h6v7h-6zM946.2 877.5h6v7h-6zM948.1 889.6h6v7h-6zM950.0 885.5h6v7h-6zM952.0 877.5h6v7h-6zM953.9 873.4h6v7h-6zM955.9 881.5h6v7h-6zM957.8 889.6h6v7h-6zM959.7 877.5h6v7h-6zM961.7 881.5h6v7h-6zM963.6 881.5h6v7h-6zM965.5 885.5h6v7h-6zM967.5 889.6h6v7h-6zM969.4 877.5h6v7h-6zM971.3 881.5h6v7h-6zM973.3 881.5h6v7h-6zM975.2 881.5h6v7h-6zM977.1 877.5h6v7h-6zM979.1 885.5h6v7h-6zM981.0 885.5h6v7h-6zM982.9 885.5h6v7h-6zM984.9 889.6h6v7h-6zM986.8 881.5h6v7h-6zM988.7 885.5h6v7h-6zM990.7 881.5h6v7h-6zM992.6 881.5h6v7h-6zM994.5 885.5h6v7h-6zM996.5 881.5h6v7h-6zM998.4 877.5h6v7h-6zM1000.4 893.6h6v7h-6zM1002.3 885.5h6v7h-6zM1004.2 877.5h6v7h-6zM1006.2 873.4h6v7h-6zM1008.1 885.5h6v7h-6zM1010.0 889.6h6v7h-6zM1012.0 889.6h6v7h-6zM1013.9 889.6h6v7h-6zM1015.8 881.5h6v7h-6zM1017.8 889.6h6v7h-6zM1019.7 877.5h6v7h-6zM1021.6 885.5h6v7h-6zM1023.6 889.6h6v7h-6zM1025.5 881.5h6v7h-6zM1027.4 885.5h6v7h-6zM1029.4 885.5h6v7h-6zM1031.3 885.5h6v7h-6zM1033.2 893.6h6v7h-6zM1035.2 877.5h6v7h-6zM1037.1 893.6h6v7h-6zM1039.0 877.5h6v7h-6zM1041.0 881.5h6v7h-6zM1042.9 881.5h6v7h-6zM1044.9 885.5h6v7h-6zM1046.8 885.5h6v7h-6zM1048.7 889.6h6v7h-6zM1050.7 885.5h6v7h-6zM1052.6 897.6h6v7h-6zM1054.5 889.6h6v7h-6zM1056.5 885.5h6v7h-6zM1058.4 889.6h6v7h-6zM1060.3 893.6h6v7h-6zM1062.3 885.5h6v7h-6zM1064.2 881.5h6v7h-6zM1066.1 881.5h6v7h-6zM1068.1 889.6h6v7h-6zM1070.0 893.6h6v7h-6zM1071.9 893.6h6v7h-6zM1073.9 889.6h6v7h-6zM1075.8 893.6h6v7h-6zM1077.7 885.5h6v7h-6zM1079.7 889.6h6v7h-6zM1081.6 897.6h6v7h-6zM1083.5 897.6h6v7h-6zM1085.5 897.6h6v7h-6zM1087.4 885.5h6v7h-6zM1089.4 893.6h6v7h-6zM1091.3 881.5h6v7h-6zM1093.2 897.6h6v7h-6zM1095.2 889.6h6v7h-6zM1097.1 881.5h6v7h-6zM1099.0 885.5h6v7h-6zM1101.0 893.6h6v7h-6zM1102.9 877.5h6v7h-6zM1104.8 881.5h6v7h-6zM1106.8 897.6h6v7h-6zM1108.7 893.6h6v7h-6zM1110.6 889.6h6v7h-6zM1112.6 881.5h6v7h-6zM1114.5 901.7h6v7h-6zM1116.4 897.6h6v7h-6zM1118.4 897.6h6v7h-6zM1120.3 885.5h6v7h-6zM1122.2 897.6h6v7h-6zM1124.2 901.7h6v7h-6zM1126.1 889.6h6v7h-6zM1128.0 889.6h6v7h-6zM1130.0 889.6h6v7h-6zM1131.9 897.6h6v7h-6zM1133.9 889.6h6v7h-6zM1135.8 889.6h6v7h-6zM1137.7 881.5h6v7h-6zM1139.7 881.5h6v7h-6zM1141.6 901.7h6v7h-6zM1143.5 905.7h6v7h-6zM1145.5 901.7h6v7h-6zM1147.4 905.7h6v7h-6zM1149.3 889.6h6v7h-6zM1151.3 893.6h6v7h-6zM1153.2 897.6h6v7h-6zM1155.1 893.6h6v7h-6zM1157.1 905.7h6v7h-6zM1159.0 885.5h6v7h-6zM1160.9 889.6h6v7h-6zM1162.9 893.6h6v7h-6zM1164.8 889.6h6v7h-6zM1166.7 901.7h6v7h-6zM1168.7 881.5h6v7h-6zM1170.6 901.7h6v7h-6zM1172.5 901.7h6v7h-6zM1174.5 897.6h6v7h-6zM1176.4 905.7h6v7h-6zM1178.4 905.7h6v7h-6zM1180.3 897.6h6v7h-6zM1182.2 901.7h6v7h-6zM1184.2 897.6h6v7h-6zM1186.1 901.7h6v7h-6zM1188.0 893.6h6v7h-6zM1190.0 889.6h6v7h-6zM1191.9 901.7h6v7h-6zM1193.8 893.6h6v7h-6zM1195.8 905.7h6v7h-6zM1197.7 901.7h6v7h-6zM1199.6 893.6h6v7h-6zM1201.6 901.7h6v7h-6zM1203.5 897.6h6v7h-6zM1205.4 897.6h6v7h-6zM1207.4 905.7h6v7h-6zM1209.3 897.6h6v7h-6zM1211.2 901.7h6v7h-6zM1213.2 885.5h6v7h-6zM1215.1 901.7h6v7h-6zM1217.0 889.6h6v7h-6zM1219.0 897.6h6v7h-6zM1220.9 909.8h6v7h-6zM1222.9 909.8h6v7h-6zM1224.8 897.6h6v7h-6zM1226.7 889.6h6v7h-6zM1228.7 901.7h6v7h-6zM1230.6 897.6h6v7h-6zM1232.5 901.7h6v7h-6zM1234.5 889.6h6v7h-6zM1236.4 909.8h6v7h-6zM1238.3 909.8h6v7h-6zM1240.3 889.6h6v7h-6zM1242.2 893.6h6v7h-6zM1244.1 893.6h6v7h-6zM1246.1 905.7h6v7h-6zM1248.0 889.6h6v7h-6zM1249.9 901.7h6v7h-6zM1251.9 897.6h6v7h-6zM1253.8 893.6h6v7h-6zM1255.7 905.7h6v7h-6zM1257.7 889.6h6v7h-6zM1259.6 889.6h6v7h-6zM1261.5 893.6h6v7h-6zM1263.5 905.7h6v7h-6zM1265.4 897.6h6v7h-6zM1267.4 893.6h6v7h-6zM1269.3 905.7h6v7h-6zM1271.2 897.6h6v7h-6zM1273.2 897.6h6v7h-6zM1275.1 897.6h6v7h-6zM1277.0 905.7h6v7h-6zM1279.0 913.8h6v7h-6zM1280.9 893.6h6v7h-6zM1282.8 905.7h6v7h-6zM1284.8 901.7h6v7h-6zM1286.7 901.7h6v7h-6zM1288.6 913.8h6v7h-6zM1290.6 909.8h6v7h-6zM1292.5 909.8h6v7h-6zM1294.4 897.6h6v7h-6zM1296.4 897.6h6v7h-6zM1298.3 905.7h6v7h-6zM1300.2 901.7h6v7h-6zM1302.2 897.6h6v7h-6zM334.8 901.7h6v7h-6zM336.7 897.6h6v7h-6zM338.6 897.6h6v7h-6zM340.6 901.7h6v7h-6zM342.5 901.7h6v7h-6zM344.5 901.7h6v7h-6zM346.4 897.6h6v7h-6zM348.3 901.7h6v7h-6zM350.3 897.6h6v7h-6zM352.2 905.7h6v7h-6zM354.1 905.7h6v7h-6zM356.1 901.7h6v7h-6zM358.0 905.7h6v7h-6zM359.9 901.7h6v7h-6zM361.9 901.7h6v7h-6zM363.8 905.7h6v7h-6zM365.7 901.7h6v7h-6zM367.7 905.7h6v7h-6zM369.6 901.7h6v7h-6zM371.5 905.7h6v7h-6zM373.5 901.7h6v7h-6zM375.4 897.6h6v7h-6zM377.3 897.6h6v7h-6zM379.3 905.7h6v7h-6zM381.2 897.6h6v7h-6zM383.2 897.6h6v7h-6zM385.1 897.6h6v7h-6zM387.0 905.7h6v7h-6zM389.0 905.7h6v7h-6zM390.9 901.7h6v7h-6zM392.8 905.7h6v7h-6zM394.8 905.7h6v7h-6zM396.7 905.7h6v7h-6zM398.6 905.7h6v7h-6zM400.6 901.7h6v7h-6zM402.5 905.7h6v7h-6zM404.4 901.7h6v7h-6zM406.4 905.7h6v7h-6zM408.3 905.7h6v7h-6zM410.2 905.7h6v7h-6zM412.2 905.7h6v7h-6zM414.1 905.7h6v7h-6zM416.0 905.7h6v7h-6zM418.0 905.7h6v7h-6zM419.9 905.7h6v7h-6zM421.8 905.7h6v7h-6zM423.8 905.7h6v7h-6zM425.7 909.8h6v7h-6zM427.7 905.7h6v7h-6zM429.6 905.7h6v7h-6zM431.5 905.7h6v7h-6zM433.5 905.7h6v7h-6zM435.4 901.7h6v7h-6zM437.3 901.7h6v7h-6zM439.3 909.8h6v7h-6zM441.2 905.7h6v7h-6zM443.1 901.7h6v7h-6zM445.1 905.7h6v7h-6zM447.0 905.7h6v7h-6zM448.9 901.7h6v7h-6zM450.9 909.8h6v7h-6zM452.8 909.8h6v7h-6zM454.7 909.8h6v7h-6zM456.7 905.7h6v7h-6zM458.6 909.8h6v7h-6zM460.5 909.8h6v7h-6zM462.5 909.8h6v7h-6zM464.4 905.7h6v7h-6zM466.3 905.7h6v7h-6zM468.3 905.7h6v7h-6zM470.2 905.7h6v7h-6zM472.2 905.7h6v7h-6zM474.1 905.7h6v7h-6zM476.0 905.7h6v7h-6zM478.0 909.8h6v7h-6zM479.9 909.8h6v7h-6zM481.8 901.7h6v7h-6zM483.8 909.8h6v7h-6zM485.7 909.8h6v7h-6zM487.6 901.7h6v7h-6zM489.6 905.7h6v7h-6zM491.5 905.7h6v7h-6zM493.4 905.7h6v7h-6zM495.4 909.8h6v7h-6zM497.3 909.8h6v7h-6zM499.2 913.8h6v7h-6zM501.2 909.8h6v7h-6zM503.1 905.7h6v7h-6zM505.0 909.8h6v7h-6zM507.0 901.7h6v7h-6zM508.9 913.8h6v7h-6zM510.8 909.8h6v7h-6zM512.8 909.8h6v7h-6zM514.7 909.8h6v7h-6zM516.7 905.7h6v7h-6zM518.6 909.8h6v7h-6zM520.5 905.7h6v7h-6zM522.5 905.7h6v7h-6zM524.4 909.8h6v7h-6zM526.3 905.7h6v7h-6zM528.3 913.8h6v7h-6zM530.2 905.7h6v7h-6zM532.1 909.8h6v7h-6zM534.1 905.7h6v7h-6zM536.0 905.7h6v7h-6zM537.9 909.8h6v7h-6zM539.9 909.8h6v7h-6zM541.8 909.8h6v7h-6zM543.7 909.8h6v7h-6zM545.7 905.7h6v7h-6zM547.6 909.8h6v7h-6zM549.5 909.8h6v7h-6zM551.5 909.8h6v7h-6zM553.4 913.8h6v7h-6zM555.3 905.7h6v7h-6zM557.3 909.8h6v7h-6zM559.2 905.7h6v7h-6zM561.2 905.7h6v7h-6zM563.1 905.7h6v7h-6zM565.0 909.8h6v7h-6zM567.0 909.8h6v7h-6zM568.9 909.8h6v7h-6zM570.8 905.7h6v7h-6zM572.8 913.8h6v7h-6zM574.7 913.8h6v7h-6zM576.6 909.8h6v7h-6zM578.6 905.7h6v7h-6zM580.5 905.7h6v7h-6zM582.4 913.8h6v7h-6zM584.4 913.8h6v7h-6zM586.3 909.8h6v7h-6zM588.2 905.7h6v7h-6zM590.2 913.8h6v7h-6zM592.1 909.8h6v7h-6zM594.0 913.8h6v7h-6zM596.0 909.8h6v7h-6zM597.9 913.8h6v7h-6zM599.8 909.8h6v7h-6zM601.8 913.8h6v7h-6zM603.7 909.8h6v7h-6zM605.7 913.8h6v7h-6zM607.6 909.8h6v7h-6zM609.5 909.8h6v7h-6zM611.5 913.8h6v7h-6zM613.4 909.8h6v7h-6zM615.3 905.7h6v7h-6zM617.3 909.8h6v7h-6zM619.2 909.8h6v7h-6zM621.1 909.8h6v7h-6zM623.1 913.8h6v7h-6zM625.0 909.8h6v7h-6zM626.9 909.8h6v7h-6zM628.9 905.7h6v7h-6zM630.8 905.7h6v7h-6zM632.7 909.8h6v7h-6zM634.7 909.8h6v7h-6zM636.6 909.8h6v7h-6zM638.5 913.8h6v7h-6zM640.5 913.8h6v7h-6zM642.4 913.8h6v7h-6zM644.3 909.8h6v7h-6zM646.3 913.8h6v7h-6zM648.2 909.8h6v7h-6zM650.2 913.8h6v7h-6zM652.1 913.8h6v7h-6zM654.0 909.8h6v7h-6zM656.0 905.7h6v7h-6zM657.9 909.8h6v7h-6zM659.8 913.8h6v7h-6zM661.8 909.8h6v7h-6zM663.7 909.8h6v7h-6zM665.6 909.8h6v7h-6zM667.6 913.8h6v7h-6zM669.5 913.8h6v7h-6zM671.4 909.8h6v7h-6zM673.4 905.7h6v7h-6zM675.3 909.8h6v7h-6zM677.2 905.7h6v7h-6zM679.2 913.8h6v7h-6zM681.1 913.8h6v7h-6zM683.0 913.8h6v7h-6zM685.0 909.8h6v7h-6zM686.9 909.8h6v7h-6zM688.8 905.7h6v7h-6zM690.8 913.8h6v7h-6zM692.7 913.8h6v7h-6zM694.7 913.8h6v7h-6zM696.6 913.8h6v7h-6zM698.5 905.7h6v7h-6zM700.5 905.7h6v7h-6zM702.4 913.8h6v7h-6zM704.3 909.8h6v7h-6zM706.3 913.8h6v7h-6zM708.2 905.7h6v7h-6zM710.1 909.8h6v7h-6zM712.1 909.8h6v7h-6zM714.0 909.8h6v7h-6zM715.9 913.8h6v7h-6zM717.9 909.8h6v7h-6zM719.8 913.8h6v7h-6zM721.7 905.7h6v7h-6zM723.7 909.8h6v7h-6zM725.6 905.7h6v7h-6zM727.5 909.8h6v7h-6zM729.5 909.8h6v7h-6zM731.4 913.8h6v7h-6zM733.3 913.8h6v7h-6zM735.3 905.7h6v7h-6zM737.2 909.8h6v7h-6zM739.2 913.8h6v7h-6zM741.1 909.8h6v7h-6zM743.0 913.8h6v7h-6zM745.0 909.8h6v7h-6zM746.9 913.8h6v7h-6zM748.8 909.8h6v7h-6zM750.8 913.8h6v7h-6zM752.7 909.8h6v7h-6zM754.6 913.8h6v7h-6zM756.6 909.8h6v7h-6zM758.5 905.7h6v7h-6zM760.4 909.8h6v7h-6zM762.4 913.8h6v7h-6zM764.3 909.8h6v7h-6zM766.2 913.8h6v7h-6zM768.2 905.7h6v7h-6zM770.1 913.8h6v7h-6zM772.0 913.8h6v7h-6zM774.0 905.7h6v7h-6zM775.9 913.8h6v7h-6zM777.8 917.8h6v7h-6zM779.8 909.8h6v7h-6zM781.7 913.8h6v7h-6zM783.7 909.8h6v7h-6zM785.6 913.8h6v7h-6zM787.5 909.8h6v7h-6zM789.5 909.8h6v7h-6zM791.4 909.8h6v7h-6zM793.3 909.8h6v7h-6zM795.3 909.8h6v7h-6zM797.2 909.8h6v7h-6zM799.1 913.8h6v7h-6zM801.1 909.8h6v7h-6zM803.0 909.8h6v7h-6zM804.9 909.8h6v7h-6zM806.9 913.8h6v7h-6zM808.8 905.7h6v7h-6zM810.7 913.8h6v7h-6zM812.7 913.8h6v7h-6zM814.6 913.8h6v7h-6zM816.5 909.8h6v7h-6zM818.5 909.8h6v7h-6zM820.4 913.8h6v7h-6zM822.3 913.8h6v7h-6zM824.3 913.8h6v7h-6zM826.2 909.8h6v7h-6zM828.2 909.8h6v7h-6zM830.1 905.7h6v7h-6zM832.0 909.8h6v7h-6zM834.0 909.8h6v7h-6zM835.9 913.8h6v7h-6zM837.8 913.8h6v7h-6zM839.8 913.8h6v7h-6zM841.7 913.8h6v7h-6zM843.6 909.8h6v7h-6zM845.6 909.8h6v7h-6zM847.5 909.8h6v7h-6zM849.4 909.8h6v7h-6zM851.4 909.8h6v7h-6zM853.3 913.8h6v7h-6zM855.2 913.8h6v7h-6zM857.2 913.8h6v7h-6zM859.1 913.8h6v7h-6zM861.0 909.8h6v7h-6zM863.0 913.8h6v7h-6zM864.9 909.8h6v7h-6zM866.8 913.8h6v7h-6zM868.8 909.8h6v7h-6zM870.7 913.8h6v7h-6zM872.7 905.7h6v7h-6zM874.6 913.8h6v7h-6zM876.5 913.8h6v7h-6zM878.5 913.8h6v7h-6zM880.4 913.8h6v7h-6zM882.3 913.8h6v7h-6zM884.3 917.8h6v7h-6zM886.2 917.8h6v7h-6zM888.1 913.8h6v7h-6zM890.1 917.8h6v7h-6zM892.0 909.8h6v7h-6zM893.9 913.8h6v7h-6zM895.9 913.8h6v7h-6zM897.8 909.8h6v7h-6zM899.7 913.8h6v7h-6zM901.7 909.8h6v7h-6zM903.6 913.8h6v7h-6zM905.5 909.8h6v7h-6zM907.5 909.8h6v7h-6zM909.4 909.8h6v7h-6zM911.4 913.8h6v7h-6zM913.3 913.8h6v7h-6zM915.2 913.8h6v7h-6zM917.2 909.8h6v7h-6zM919.1 913.8h6v7h-6zM921.0 909.8h6v7h-6zM923.0 913.8h6v7h-6zM924.9 917.8h6v7h-6zM926.8 913.8h6v7h-6zM928.8 909.8h6v7h-6zM930.7 913.8h6v7h-6zM932.6 913.8h6v7h-6zM934.6 913.8h6v7h-6zM936.5 917.8h6v7h-6zM938.4 909.8h6v7h-6zM940.4 913.8h6v7h-6zM942.3 913.8h6v7h-6zM944.2 917.8h6v7h-6zM946.2 909.8h6v7h-6zM948.1 913.8h6v7h-6zM950.0 913.8h6v7h-6zM952.0 917.8h6v7h-6zM953.9 913.8h6v7h-6zM955.9 913.8h6v7h-6zM957.8 917.8h6v7h-6zM959.7 913.8h6v7h-6zM961.7 913.8h6v7h-6zM963.6 913.8h6v7h-6zM965.5 913.8h6v7h-6zM967.5 909.8h6v7h-6zM969.4 913.8h6v7h-6zM971.3 913.8h6v7h-6zM973.3 913.8h6v7h-6zM975.2 917.8h6v7h-6zM977.1 913.8h6v7h-6zM979.1 917.8h6v7h-6zM981.0 913.8h6v7h-6zM982.9 917.8h6v7h-6zM984.9 913.8h6v7h-6zM986.8 913.8h6v7h-6zM988.7 909.8h6v7h-6zM990.7 909.8h6v7h-6zM992.6 917.8h6v7h-6zM994.5 913.8h6v7h-6zM996.5 909.8h6v7h-6zM998.4 913.8h6v7h-6zM1000.4 913.8h6v7h-6zM1002.3 909.8h6v7h-6zM1004.2 917.8h6v7h-6zM1006.2 913.8h6v7h-6zM1008.1 913.8h6v7h-6zM1010.0 917.8h6v7h-6zM1012.0 913.8h6v7h-6zM1013.9 917.8h6v7h-6zM1015.8 913.8h6v7h-6zM1017.8 913.8h6v7h-6zM1019.7 917.8h6v7h-6zM1021.6 917.8h6v7h-6zM1023.6 913.8h6v7h-6zM1025.5 913.8h6v7h-6zM1027.4 917.8h6v7h-6zM1029.4 909.8h6v7h-6zM1031.3 917.8h6v7h-6zM1033.2 913.8h6v7h-6zM1035.2 909.8h6v7h-6zM1037.1 913.8h6v7h-6zM1039.0 917.8h6v7h-6zM1041.0 909.8h6v7h-6zM1042.9 921.9h6v7h-6zM1044.9 913.8h6v7h-6zM1046.8 917.8h6v7h-6zM1048.7 909.8h6v7h-6zM1050.7 913.8h6v7h-6zM1052.6 913.8h6v7h-6zM1054.5 917.8h6v7h-6zM1056.5 917.8h6v7h-6zM1058.4 913.8h6v7h-6zM1060.3 921.9h6v7h-6zM1062.3 917.8h6v7h-6zM1064.2 913.8h6v7h-6zM1066.1 917.8h6v7h-6zM1068.1 909.8h6v7h-6zM1070.0 913.8h6v7h-6zM1071.9 921.9h6v7h-6zM1073.9 913.8h6v7h-6zM1075.8 917.8h6v7h-6zM1077.7 913.8h6v7h-6zM1079.7 917.8h6v7h-6zM1081.6 917.8h6v7h-6zM1083.5 917.8h6v7h-6zM1085.5 917.8h6v7h-6zM1087.4 921.9h6v7h-6zM1089.4 917.8h6v7h-6zM1091.3 909.8h6v7h-6zM1093.2 917.8h6v7h-6zM1095.2 917.8h6v7h-6zM1097.1 913.8h6v7h-6zM1099.0 913.8h6v7h-6zM1101.0 913.8h6v7h-6zM1102.9 917.8h6v7h-6zM1104.8 917.8h6v7h-6zM1106.8 913.8h6v7h-6zM1108.7 917.8h6v7h-6zM1110.6 917.8h6v7h-6zM1112.6 917.8h6v7h-6zM1114.5 917.8h6v7h-6zM1116.4 913.8h6v7h-6zM1118.4 913.8h6v7h-6zM1120.3 917.8h6v7h-6zM1122.2 921.9h6v7h-6zM1124.2 921.9h6v7h-6zM1126.1 913.8h6v7h-6zM1128.0 913.8h6v7h-6zM1130.0 913.8h6v7h-6zM1131.9 917.8h6v7h-6zM1133.9 913.8h6v7h-6zM1135.8 917.8h6v7h-6zM1137.7 921.9h6v7h-6zM1139.7 913.8h6v7h-6zM1141.6 917.8h6v7h-6zM1143.5 921.9h6v7h-6zM1145.5 921.9h6v7h-6zM1147.4 913.8h6v7h-6zM1149.3 921.9h6v7h-6zM1151.3 913.8h6v7h-6zM1153.2 917.8h6v7h-6zM1155.1 917.8h6v7h-6zM1157.1 917.8h6v7h-6zM1159.0 913.8h6v7h-6zM1160.9 921.9h6v7h-6zM1162.9 913.8h6v7h-6zM1164.8 913.8h6v7h-6zM1166.7 917.8h6v7h-6zM1168.7 917.8h6v7h-6zM1170.6 913.8h6v7h-6zM1172.5 921.9h6v7h-6zM1174.5 913.8h6v7h-6zM1176.4 921.9h6v7h-6zM1178.4 921.9h6v7h-6zM1180.3 917.8h6v7h-6zM1182.2 921.9h6v7h-6zM1184.2 917.8h6v7h-6zM1186.1 917.8h6v7h-6zM1188.0 913.8h6v7h-6zM1190.0 917.8h6v7h-6zM1191.9 917.8h6v7h-6zM1193.8 913.8h6v7h-6zM1195.8 917.8h6v7h-6zM1197.7 921.9h6v7h-6zM1199.6 917.8h6v7h-6zM1201.6 921.9h6v7h-6zM1203.5 917.8h6v7h-6zM1205.4 913.8h6v7h-6zM1207.4 917.8h6v7h-6zM1209.3 917.8h6v7h-6zM1211.2 913.8h6v7h-6zM1213.2 921.9h6v7h-6zM1215.1 917.8h6v7h-6zM1217.0 917.8h6v7h-6zM1219.0 917.8h6v7h-6zM1220.9 917.8h6v7h-6zM1222.9 921.9h6v7h-6zM1224.8 925.9h6v7h-6zM1226.7 917.8h6v7h-6zM1228.7 913.8h6v7h-6zM1230.6 921.9h6v7h-6zM1232.5 925.9h6v7h-6zM1234.5 917.8h6v7h-6zM1236.4 913.8h6v7h-6zM1238.3 913.8h6v7h-6zM1240.3 917.8h6v7h-6zM1242.2 917.8h6v7h-6zM1244.1 917.8h6v7h-6zM1246.1 921.9h6v7h-6zM1248.0 917.8h6v7h-6zM1249.9 917.8h6v7h-6zM1251.9 913.8h6v7h-6zM1253.8 921.9h6v7h-6zM1255.7 921.9h6v7h-6zM1257.7 921.9h6v7h-6zM1259.6 917.8h6v7h-6zM1261.5 921.9h6v7h-6zM1263.5 921.9h6v7h-6zM1265.4 921.9h6v7h-6zM1267.4 921.9h6v7h-6zM1269.3 917.8h6v7h-6zM1271.2 917.8h6v7h-6zM1273.2 913.8h6v7h-6zM1275.1 917.8h6v7h-6zM1277.0 917.8h6v7h-6zM1279.0 913.8h6v7h-6zM1280.9 917.8h6v7h-6zM1282.8 921.9h6v7h-6zM1284.8 917.8h6v7h-6zM1286.7 917.8h6v7h-6zM1288.6 917.8h6v7h-6zM1290.6 921.9h6v7h-6zM1292.5 925.9h6v7h-6zM1294.4 921.9h6v7h-6zM1296.4 917.8h6v7h-6zM1298.3 913.8h6v7h-6zM1300.2 921.9h6v7h-6zM1302.2 921.9h6v7h-6zM334.8 897.6h6v7h-6zM336.7 901.7h6v7h-6zM338.6 897.6h6v7h-6zM340.6 901.7h6v7h-6zM342.5 905.7h6v7h-6zM344.5 901.7h6v7h-6zM346.4 901.7h6v7h-6zM348.3 901.7h6v7h-6zM350.3 897.6h6v7h-6zM352.2 897.6h6v7h-6zM354.1 901.7h6v7h-6zM356.1 901.7h6v7h-6zM358.0 901.7h6v7h-6zM359.9 905.7h6v7h-6zM361.9 901.7h6v7h-6zM363.8 905.7h6v7h-6zM365.7 905.7h6v7h-6zM367.7 901.7h6v7h-6zM369.6 901.7h6v7h-6zM371.5 897.6h6v7h-6zM373.5 905.7h6v7h-6zM375.4 901.7h6v7h-6zM377.3 901.7h6v7h-6zM379.3 905.7h6v7h-6zM381.2 897.6h6v7h-6zM383.2 901.7h6v7h-6zM385.1 901.7h6v7h-6zM387.0 901.7h6v7h-6zM389.0 901.7h6v7h-6zM390.9 901.7h6v7h-6zM392.8 905.7h6v7h-6zM394.8 901.7h6v7h-6zM396.7 905.7h6v7h-6zM398.6 901.7h6v7h-6zM400.6 905.7h6v7h-6zM402.5 905.7h6v7h-6zM404.4 897.6h6v7h-6zM406.4 901.7h6v7h-6zM408.3 905.7h6v7h-6zM410.2 897.6h6v7h-6zM412.2 897.6h6v7h-6zM414.1 905.7h6v7h-6zM416.0 901.7h6v7h-6zM418.0 905.7h6v7h-6zM419.9 905.7h6v7h-6zM421.8 905.7h6v7h-6zM423.8 901.7h6v7h-6zM425.7 905.7h6v7h-6zM427.7 901.7h6v7h-6zM429.6 901.7h6v7h-6zM431.5 905.7h6v7h-6zM433.5 905.7h6v7h-6zM435.4 905.7h6v7h-6zM437.3 905.7h6v7h-6zM439.3 905.7h6v7h-6zM441.2 901.7h6v7h-6zM443.1 909.8h6v7h-6zM445.1 901.7h6v7h-6zM447.0 905.7h6v7h-6zM448.9 901.7h6v7h-6zM450.9 905.7h6v7h-6zM452.8 905.7h6v7h-6zM454.7 905.7h6v7h-6zM456.7 901.7h6v7h-6zM458.6 905.7h6v7h-6zM460.5 905.7h6v7h-6zM462.5 905.7h6v7h-6zM464.4 905.7h6v7h-6zM466.3 909.8h6v7h-6zM468.3 905.7h6v7h-6zM470.2 905.7h6v7h-6zM472.2 909.8h6v7h-6zM474.1 905.7h6v7h-6zM476.0 905.7h6v7h-6zM478.0 909.8h6v7h-6zM479.9 905.7h6v7h-6zM481.8 909.8h6v7h-6zM483.8 905.7h6v7h-6zM485.7 909.8h6v7h-6zM487.6 909.8h6v7h-6zM489.6 909.8h6v7h-6zM491.5 909.8h6v7h-6zM493.4 909.8h6v7h-6zM495.4 909.8h6v7h-6zM497.3 905.7h6v7h-6zM499.2 909.8h6v7h-6zM501.2 905.7h6v7h-6zM503.1 913.8h6v7h-6zM505.0 905.7h6v7h-6zM507.0 909.8h6v7h-6zM508.9 905.7h6v7h-6zM510.8 909.8h6v7h-6zM512.8 909.8h6v7h-6zM514.7 905.7h6v7h-6zM516.7 913.8h6v7h-6zM518.6 905.7h6v7h-6zM520.5 905.7h6v7h-6zM522.5 909.8h6v7h-6zM524.4 905.7h6v7h-6zM526.3 909.8h6v7h-6zM528.3 909.8h6v7h-6zM530.2 905.7h6v7h-6zM532.1 905.7h6v7h-6zM534.1 905.7h6v7h-6zM536.0 909.8h6v7h-6zM537.9 905.7h6v7h-6zM539.9 905.7h6v7h-6zM541.8 909.8h6v7h-6zM543.7 905.7h6v7h-6zM545.7 909.8h6v7h-6zM547.6 905.7h6v7h-6zM549.5 913.8h6v7h-6zM551.5 913.8h6v7h-6zM553.4 905.7h6v7h-6zM555.3 905.7h6v7h-6zM557.3 905.7h6v7h-6zM559.2 913.8h6v7h-6zM561.2 909.8h6v7h-6zM563.1 913.8h6v7h-6zM565.0 905.7h6v7h-6zM567.0 905.7h6v7h-6zM568.9 909.8h6v7h-6zM570.8 913.8h6v7h-6zM572.8 909.8h6v7h-6zM574.7 905.7h6v7h-6zM576.6 909.8h6v7h-6zM578.6 909.8h6v7h-6zM580.5 909.8h6v7h-6zM582.4 909.8h6v7h-6zM584.4 909.8h6v7h-6zM586.3 909.8h6v7h-6zM588.2 905.7h6v7h-6zM590.2 909.8h6v7h-6zM592.1 913.8h6v7h-6zM594.0 913.8h6v7h-6zM596.0 905.7h6v7h-6zM597.9 905.7h6v7h-6zM599.8 913.8h6v7h-6zM601.8 909.8h6v7h-6zM603.7 909.8h6v7h-6zM605.7 909.8h6v7h-6zM607.6 909.8h6v7h-6zM609.5 909.8h6v7h-6zM611.5 913.8h6v7h-6zM613.4 909.8h6v7h-6zM615.3 913.8h6v7h-6zM617.3 909.8h6v7h-6zM619.2 909.8h6v7h-6zM621.1 913.8h6v7h-6zM623.1 913.8h6v7h-6zM625.0 913.8h6v7h-6zM626.9 913.8h6v7h-6zM628.9 909.8h6v7h-6zM630.8 913.8h6v7h-6zM632.7 909.8h6v7h-6zM634.7 909.8h6v7h-6zM636.6 913.8h6v7h-6zM638.5 913.8h6v7h-6zM640.5 909.8h6v7h-6zM642.4 909.8h6v7h-6zM644.3 913.8h6v7h-6zM646.3 913.8h6v7h-6zM648.2 909.8h6v7h-6zM650.2 905.7h6v7h-6zM652.1 909.8h6v7h-6zM654.0 913.8h6v7h-6zM656.0 909.8h6v7h-6zM657.9 909.8h6v7h-6zM659.8 913.8h6v7h-6zM661.8 913.8h6v7h-6zM663.7 909.8h6v7h-6zM665.6 909.8h6v7h-6zM667.6 909.8h6v7h-6zM669.5 909.8h6v7h-6zM671.4 909.8h6v7h-6zM673.4 905.7h6v7h-6zM675.3 909.8h6v7h-6zM677.2 909.8h6v7h-6zM679.2 909.8h6v7h-6zM681.1 909.8h6v7h-6zM683.0 909.8h6v7h-6zM685.0 909.8h6v7h-6zM686.9 909.8h6v7h-6zM688.8 909.8h6v7h-6zM690.8 913.8h6v7h-6zM692.7 905.7h6v7h-6zM694.7 909.8h6v7h-6zM696.6 913.8h6v7h-6zM698.5 905.7h6v7h-6zM700.5 909.8h6v7h-6zM702.4 909.8h6v7h-6zM704.3 905.7h6v7h-6zM706.3 913.8h6v7h-6zM708.2 909.8h6v7h-6zM710.1 905.7h6v7h-6zM712.1 909.8h6v7h-6zM714.0 909.8h6v7h-6zM715.9 909.8h6v7h-6zM717.9 909.8h6v7h-6zM719.8 913.8h6v7h-6zM721.7 909.8h6v7h-6zM723.7 909.8h6v7h-6zM725.6 909.8h6v7h-6zM727.5 909.8h6v7h-6zM729.5 909.8h6v7h-6zM731.4 909.8h6v7h-6zM733.3 913.8h6v7h-6zM735.3 909.8h6v7h-6zM737.2 913.8h6v7h-6zM739.2 909.8h6v7h-6zM741.1 905.7h6v7h-6zM743.0 909.8h6v7h-6zM745.0 909.8h6v7h-6zM746.9 909.8h6v7h-6zM748.8 909.8h6v7h-6zM750.8 913.8h6v7h-6zM752.7 917.8h6v7h-6zM754.6 917.8h6v7h-6zM756.6 909.8h6v7h-6zM758.5 917.8h6v7h-6zM760.4 913.8h6v7h-6zM762.4 909.8h6v7h-6zM764.3 909.8h6v7h-6zM766.2 909.8h6v7h-6zM768.2 917.8h6v7h-6zM770.1 909.8h6v7h-6zM772.0 909.8h6v7h-6zM774.0 913.8h6v7h-6zM775.9 909.8h6v7h-6zM777.8 909.8h6v7h-6zM779.8 913.8h6v7h-6zM781.7 909.8h6v7h-6zM783.7 905.7h6v7h-6zM785.6 905.7h6v7h-6zM787.5 913.8h6v7h-6zM789.5 905.7h6v7h-6zM791.4 913.8h6v7h-6zM793.3 909.8h6v7h-6zM795.3 909.8h6v7h-6zM797.2 909.8h6v7h-6zM799.1 905.7h6v7h-6zM801.1 909.8h6v7h-6zM803.0 905.7h6v7h-6zM804.9 909.8h6v7h-6zM806.9 913.8h6v7h-6zM808.8 909.8h6v7h-6zM810.7 909.8h6v7h-6zM812.7 905.7h6v7h-6zM814.6 909.8h6v7h-6zM816.5 909.8h6v7h-6zM818.5 909.8h6v7h-6zM820.4 913.8h6v7h-6zM822.3 913.8h6v7h-6zM824.3 909.8h6v7h-6zM826.2 913.8h6v7h-6zM828.2 905.7h6v7h-6zM830.1 913.8h6v7h-6zM832.0 909.8h6v7h-6zM834.0 905.7h6v7h-6zM835.9 913.8h6v7h-6zM837.8 909.8h6v7h-6zM839.8 913.8h6v7h-6zM841.7 913.8h6v7h-6zM843.6 909.8h6v7h-6zM845.6 917.8h6v7h-6zM847.5 909.8h6v7h-6zM849.4 909.8h6v7h-6zM851.4 909.8h6v7h-6zM853.3 909.8h6v7h-6zM855.2 909.8h6v7h-6zM857.2 913.8h6v7h-6zM859.1 913.8h6v7h-6zM861.0 909.8h6v7h-6zM863.0 905.7h6v7h-6zM864.9 913.8h6v7h-6zM866.8 913.8h6v7h-6zM868.8 913.8h6v7h-6zM870.7 913.8h6v7h-6zM872.7 917.8h6v7h-6zM874.6 913.8h6v7h-6zM876.5 917.8h6v7h-6zM878.5 909.8h6v7h-6zM880.4 909.8h6v7h-6zM882.3 913.8h6v7h-6zM884.3 909.8h6v7h-6zM886.2 913.8h6v7h-6zM888.1 917.8h6v7h-6zM890.1 913.8h6v7h-6zM892.0 913.8h6v7h-6zM893.9 917.8h6v7h-6zM895.9 917.8h6v7h-6zM897.8 913.8h6v7h-6zM899.7 909.8h6v7h-6zM901.7 917.8h6v7h-6zM903.6 909.8h6v7h-6zM905.5 909.8h6v7h-6zM907.5 909.8h6v7h-6zM909.4 917.8h6v7h-6zM911.4 909.8h6v7h-6zM913.3 913.8h6v7h-6zM915.2 913.8h6v7h-6zM917.2 917.8h6v7h-6zM919.1 909.8h6v7h-6zM921.0 913.8h6v7h-6zM923.0 913.8h6v7h-6zM924.9 917.8h6v7h-6zM926.8 913.8h6v7h-6zM928.8 913.8h6v7h-6zM930.7 913.8h6v7h-6zM932.6 917.8h6v7h-6zM934.6 917.8h6v7h-6zM936.5 913.8h6v7h-6zM938.4 913.8h6v7h-6zM940.4 909.8h6v7h-6zM942.3 913.8h6v7h-6zM944.2 909.8h6v7h-6zM946.2 913.8h6v7h-6zM948.1 917.8h6v7h-6zM950.0 917.8h6v7h-6zM952.0 913.8h6v7h-6zM953.9 913.8h6v7h-6zM955.9 913.8h6v7h-6zM957.8 917.8h6v7h-6zM959.7 913.8h6v7h-6zM961.7 917.8h6v7h-6zM963.6 917.8h6v7h-6zM965.5 913.8h6v7h-6zM967.5 913.8h6v7h-6zM969.4 917.8h6v7h-6zM971.3 913.8h6v7h-6zM973.3 909.8h6v7h-6zM975.2 917.8h6v7h-6zM977.1 917.8h6v7h-6zM979.1 917.8h6v7h-6zM981.0 913.8h6v7h-6zM982.9 909.8h6v7h-6zM984.9 913.8h6v7h-6zM986.8 917.8h6v7h-6zM988.7 913.8h6v7h-6zM990.7 917.8h6v7h-6zM992.6 913.8h6v7h-6zM994.5 917.8h6v7h-6zM996.5 913.8h6v7h-6zM998.4 913.8h6v7h-6zM1000.4 909.8h6v7h-6zM1002.3 913.8h6v7h-6zM1004.2 913.8h6v7h-6zM1006.2 913.8h6v7h-6zM1008.1 909.8h6v7h-6zM1010.0 913.8h6v7h-6zM1012.0 913.8h6v7h-6zM1013.9 917.8h6v7h-6zM1015.8 917.8h6v7h-6zM1017.8 917.8h6v7h-6zM1019.7 917.8h6v7h-6zM1021.6 913.8h6v7h-6zM1023.6 913.8h6v7h-6zM1025.5 909.8h6v7h-6zM1027.4 913.8h6v7h-6zM1029.4 917.8h6v7h-6zM1031.3 913.8h6v7h-6zM1033.2 917.8h6v7h-6zM1035.2 909.8h6v7h-6zM1037.1 913.8h6v7h-6zM1039.0 913.8h6v7h-6zM1041.0 917.8h6v7h-6zM1042.9 917.8h6v7h-6zM1044.9 921.9h6v7h-6zM1046.8 909.8h6v7h-6zM1048.7 909.8h6v7h-6zM1050.7 913.8h6v7h-6zM1052.6 917.8h6v7h-6zM1054.5 913.8h6v7h-6zM1056.5 913.8h6v7h-6zM1058.4 909.8h6v7h-6zM1060.3 909.8h6v7h-6zM1062.3 913.8h6v7h-6zM1064.2 921.9h6v7h-6zM1066.1 913.8h6v7h-6zM1068.1 921.9h6v7h-6zM1070.0 917.8h6v7h-6zM1071.9 913.8h6v7h-6zM1073.9 917.8h6v7h-6zM1075.8 917.8h6v7h-6zM1077.7 913.8h6v7h-6zM1079.7 909.8h6v7h-6zM1081.6 921.9h6v7h-6zM1083.5 913.8h6v7h-6zM1085.5 917.8h6v7h-6zM1087.4 917.8h6v7h-6zM1089.4 909.8h6v7h-6zM1091.3 917.8h6v7h-6zM1093.2 917.8h6v7h-6zM1095.2 921.9h6v7h-6zM1097.1 917.8h6v7h-6zM1099.0 917.8h6v7h-6zM1101.0 917.8h6v7h-6zM1102.9 917.8h6v7h-6zM1104.8 921.9h6v7h-6zM1106.8 921.9h6v7h-6zM1108.7 921.9h6v7h-6zM1110.6 917.8h6v7h-6zM1112.6 921.9h6v7h-6zM1114.5 913.8h6v7h-6zM1116.4 913.8h6v7h-6zM1118.4 921.9h6v7h-6zM1120.3 917.8h6v7h-6zM1122.2 917.8h6v7h-6zM1124.2 917.8h6v7h-6zM1126.1 913.8h6v7h-6zM1128.0 917.8h6v7h-6zM1130.0 917.8h6v7h-6zM1131.9 917.8h6v7h-6zM1133.9 913.8h6v7h-6zM1135.8 921.9h6v7h-6zM1137.7 917.8h6v7h-6zM1139.7 913.8h6v7h-6zM1141.6 913.8h6v7h-6zM1143.5 913.8h6v7h-6zM1145.5 913.8h6v7h-6zM1147.4 913.8h6v7h-6zM1149.3 913.8h6v7h-6zM1151.3 917.8h6v7h-6zM1153.2 921.9h6v7h-6zM1155.1 917.8h6v7h-6zM1157.1 921.9h6v7h-6zM1159.0 917.8h6v7h-6zM1160.9 913.8h6v7h-6zM1162.9 913.8h6v7h-6zM1164.8 917.8h6v7h-6zM1166.7 921.9h6v7h-6zM1168.7 921.9h6v7h-6zM1170.6 913.8h6v7h-6zM1172.5 913.8h6v7h-6zM1174.5 921.9h6v7h-6zM1176.4 917.8h6v7h-6zM1178.4 921.9h6v7h-6zM1180.3 917.8h6v7h-6zM1182.2 913.8h6v7h-6zM1184.2 921.9h6v7h-6zM1186.1 917.8h6v7h-6zM1188.0 921.9h6v7h-6zM1190.0 921.9h6v7h-6zM1191.9 913.8h6v7h-6zM1193.8 917.8h6v7h-6zM1195.8 921.9h6v7h-6zM1197.7 917.8h6v7h-6zM1199.6 917.8h6v7h-6zM1201.6 921.9h6v7h-6zM1203.5 913.8h6v7h-6zM1205.4 917.8h6v7h-6zM1207.4 917.8h6v7h-6zM1209.3 921.9h6v7h-6zM1211.2 917.8h6v7h-6zM1213.2 917.8h6v7h-6zM1215.1 921.9h6v7h-6zM1217.0 917.8h6v7h-6zM1219.0 921.9h6v7h-6zM1220.9 917.8h6v7h-6zM1222.9 917.8h6v7h-6zM1224.8 921.9h6v7h-6zM1226.7 921.9h6v7h-6zM1228.7 913.8h6v7h-6zM1230.6 921.9h6v7h-6zM1232.5 917.8h6v7h-6zM1234.5 917.8h6v7h-6zM1236.4 917.8h6v7h-6zM1238.3 921.9h6v7h-6zM1240.3 917.8h6v7h-6zM1242.2 917.8h6v7h-6zM1244.1 913.8h6v7h-6zM1246.1 917.8h6v7h-6zM1248.0 917.8h6v7h-6zM1249.9 913.8h6v7h-6zM1251.9 917.8h6v7h-6zM1253.8 921.9h6v7h-6zM1255.7 925.9h6v7h-6zM1257.7 917.8h6v7h-6zM1259.6 925.9h6v7h-6zM1261.5 921.9h6v7h-6zM1263.5 921.9h6v7h-6zM1265.4 921.9h6v7h-6zM1267.4 917.8h6v7h-6zM1269.3 917.8h6v7h-6zM1271.2 917.8h6v7h-6zM1273.2 917.8h6v7h-6zM1275.1 921.9h6v7h-6zM1277.0 925.9h6v7h-6zM1279.0 925.9h6v7h-6zM1280.9 921.9h6v7h-6zM1282.8 921.9h6v7h-6zM1284.8 917.8h6v7h-6zM1286.7 913.8h6v7h-6zM1288.6 917.8h6v7h-6zM1290.6 921.9h6v7h-6zM1292.5 925.9h6v7h-6zM1294.4 925.9h6v7h-6zM1296.4 921.9h6v7h-6zM1298.3 925.9h6v7h-6zM1300.2 921.9h6v7h-6zM1302.2 921.9h6v7h-6zM334.8 901.7h6v7h-6zM336.7 901.7h6v7h-6zM338.6 905.7h6v7h-6zM340.6 897.6h6v7h-6zM342.5 897.6h6v7h-6zM344.5 901.7h6v7h-6zM346.4 901.7h6v7h-6zM348.3 901.7h6v7h-6zM350.3 901.7h6v7h-6zM352.2 901.7h6v7h-6zM354.1 901.7h6v7h-6zM356.1 901.7h6v7h-6zM358.0 901.7h6v7h-6zM359.9 897.6h6v7h-6zM361.9 901.7h6v7h-6zM363.8 897.6h6v7h-6zM365.7 897.6h6v7h-6zM367.7 901.7h6v7h-6zM369.6 901.7h6v7h-6zM371.5 897.6h6v7h-6zM373.5 905.7h6v7h-6zM375.4 901.7h6v7h-6zM377.3 901.7h6v7h-6zM379.3 901.7h6v7h-6zM381.2 905.7h6v7h-6zM383.2 901.7h6v7h-6zM385.1 905.7h6v7h-6zM387.0 901.7h6v7h-6zM389.0 905.7h6v7h-6zM390.9 901.7h6v7h-6zM392.8 901.7h6v7h-6zM394.8 901.7h6v7h-6zM396.7 901.7h6v7h-6zM398.6 905.7h6v7h-6zM400.6 905.7h6v7h-6zM402.5 905.7h6v7h-6zM404.4 901.7h6v7h-6zM406.4 905.7h6v7h-6zM408.3 901.7h6v7h-6zM410.2 905.7h6v7h-6zM412.2 905.7h6v7h-6zM414.1 905.7h6v7h-6zM416.0 905.7h6v7h-6zM418.0 905.7h6v7h-6zM419.9 901.7h6v7h-6zM421.8 905.7h6v7h-6zM423.8 905.7h6v7h-6zM425.7 901.7h6v7h-6zM427.7 905.7h6v7h-6zM429.6 905.7h6v7h-6zM431.5 905.7h6v7h-6zM433.5 901.7h6v7h-6zM435.4 905.7h6v7h-6zM437.3 905.7h6v7h-6zM439.3 905.7h6v7h-6zM441.2 905.7h6v7h-6zM443.1 909.8h6v7h-6zM445.1 905.7h6v7h-6zM447.0 901.7h6v7h-6zM448.9 905.7h6v7h-6zM450.9 905.7h6v7h-6zM452.8 905.7h6v7h-6zM454.7 901.7h6v7h-6zM456.7 905.7h6v7h-6zM458.6 905.7h6v7h-6zM460.5 905.7h6v7h-6zM462.5 905.7h6v7h-6zM464.4 909.8h6v7h-6zM466.3 905.7h6v7h-6zM468.3 909.8h6v7h-6zM470.2 905.7h6v7h-6zM472.2 905.7h6v7h-6zM474.1 905.7h6v7h-6zM476.0 905.7h6v7h-6zM478.0 905.7h6v7h-6zM479.9 901.7h6v7h-6zM481.8 905.7h6v7h-6zM483.8 905.7h6v7h-6zM485.7 909.8h6v7h-6zM487.6 905.7h6v7h-6zM489.6 905.7h6v7h-6zM491.5 905.7h6v7h-6zM493.4 905.7h6v7h-6zM495.4 905.7h6v7h-6zM497.3 905.7h6v7h-6zM499.2 909.8h6v7h-6zM501.2 905.7h6v7h-6zM503.1 909.8h6v7h-6zM505.0 909.8h6v7h-6zM507.0 909.8h6v7h-6zM508.9 909.8h6v7h-6zM510.8 909.8h6v7h-6zM512.8 909.8h6v7h-6zM514.7 909.8h6v7h-6zM516.7 909.8h6v7h-6zM518.6 909.8h6v7h-6zM520.5 905.7h6v7h-6zM522.5 905.7h6v7h-6zM524.4 905.7h6v7h-6zM526.3 909.8h6v7h-6zM528.3 909.8h6v7h-6zM530.2 905.7h6v7h-6zM532.1 905.7h6v7h-6zM534.1 905.7h6v7h-6zM536.0 909.8h6v7h-6zM537.9 909.8h6v7h-6zM539.9 909.8h6v7h-6zM541.8 909.8h6v7h-6zM543.7 905.7h6v7h-6zM545.7 909.8h6v7h-6zM547.6 909.8h6v7h-6zM549.5 909.8h6v7h-6zM551.5 905.7h6v7h-6zM553.4 909.8h6v7h-6zM555.3 909.8h6v7h-6zM557.3 913.8h6v7h-6zM559.2 909.8h6v7h-6zM561.2 909.8h6v7h-6zM563.1 909.8h6v7h-6zM565.0 909.8h6v7h-6zM567.0 905.7h6v7h-6zM568.9 913.8h6v7h-6zM570.8 909.8h6v7h-6zM572.8 909.8h6v7h-6zM574.7 909.8h6v7h-6zM576.6 909.8h6v7h-6zM578.6 909.8h6v7h-6zM580.5 909.8h6v7h-6zM582.4 909.8h6v7h-6zM584.4 909.8h6v7h-6zM586.3 909.8h6v7h-6zM588.2 909.8h6v7h-6zM590.2 909.8h6v7h-6zM592.1 909.8h6v7h-6zM594.0 909.8h6v7h-6zM596.0 909.8h6v7h-6zM597.9 909.8h6v7h-6zM599.8 913.8h6v7h-6zM601.8 909.8h6v7h-6zM603.7 905.7h6v7h-6zM605.7 905.7h6v7h-6zM607.6 909.8h6v7h-6zM609.5 913.8h6v7h-6zM611.5 913.8h6v7h-6zM613.4 909.8h6v7h-6zM615.3 909.8h6v7h-6zM617.3 909.8h6v7h-6zM619.2 913.8h6v7h-6zM621.1 909.8h6v7h-6zM623.1 909.8h6v7h-6zM625.0 913.8h6v7h-6zM626.9 913.8h6v7h-6zM628.9 905.7h6v7h-6zM630.8 909.8h6v7h-6zM632.7 913.8h6v7h-6zM634.7 913.8h6v7h-6zM636.6 909.8h6v7h-6zM638.5 909.8h6v7h-6zM640.5 913.8h6v7h-6zM642.4 909.8h6v7h-6zM644.3 909.8h6v7h-6zM646.3 909.8h6v7h-6zM648.2 913.8h6v7h-6zM650.2 913.8h6v7h-6zM652.1 909.8h6v7h-6zM654.0 913.8h6v7h-6zM656.0 909.8h6v7h-6zM657.9 909.8h6v7h-6zM659.8 909.8h6v7h-6zM661.8 905.7h6v7h-6zM663.7 909.8h6v7h-6zM665.6 909.8h6v7h-6zM667.6 913.8h6v7h-6zM669.5 909.8h6v7h-6zM671.4 909.8h6v7h-6zM673.4 913.8h6v7h-6zM675.3 909.8h6v7h-6zM677.2 909.8h6v7h-6zM679.2 913.8h6v7h-6zM681.1 913.8h6v7h-6zM683.0 913.8h6v7h-6zM685.0 913.8h6v7h-6zM686.9 909.8h6v7h-6zM688.8 909.8h6v7h-6zM690.8 909.8h6v7h-6zM692.7 909.8h6v7h-6zM694.7 913.8h6v7h-6zM696.6 909.8h6v7h-6zM698.5 909.8h6v7h-6zM700.5 913.8h6v7h-6zM702.4 913.8h6v7h-6zM704.3 909.8h6v7h-6zM706.3 909.8h6v7h-6zM708.2 909.8h6v7h-6zM710.1 909.8h6v7h-6zM712.1 909.8h6v7h-6zM714.0 909.8h6v7h-6zM715.9 909.8h6v7h-6zM717.9 909.8h6v7h-6zM719.8 913.8h6v7h-6zM721.7 909.8h6v7h-6zM723.7 909.8h6v7h-6zM725.6 913.8h6v7h-6zM727.5 909.8h6v7h-6zM729.5 909.8h6v7h-6zM731.4 913.8h6v7h-6zM733.3 913.8h6v7h-6zM735.3 909.8h6v7h-6zM737.2 913.8h6v7h-6zM739.2 909.8h6v7h-6zM741.1 909.8h6v7h-6zM743.0 913.8h6v7h-6zM745.0 909.8h6v7h-6zM746.9 909.8h6v7h-6zM748.8 913.8h6v7h-6zM750.8 913.8h6v7h-6zM752.7 909.8h6v7h-6zM754.6 909.8h6v7h-6zM756.6 913.8h6v7h-6zM758.5 913.8h6v7h-6zM760.4 913.8h6v7h-6zM762.4 909.8h6v7h-6zM764.3 909.8h6v7h-6zM766.2 909.8h6v7h-6zM768.2 909.8h6v7h-6zM770.1 909.8h6v7h-6zM772.0 909.8h6v7h-6zM774.0 909.8h6v7h-6zM775.9 909.8h6v7h-6zM777.8 913.8h6v7h-6zM779.8 909.8h6v7h-6zM781.7 909.8h6v7h-6zM783.7 909.8h6v7h-6zM785.6 909.8h6v7h-6zM787.5 909.8h6v7h-6zM789.5 909.8h6v7h-6zM791.4 909.8h6v7h-6zM793.3 909.8h6v7h-6zM795.3 909.8h6v7h-6zM797.2 909.8h6v7h-6zM799.1 909.8h6v7h-6zM801.1 909.8h6v7h-6zM803.0 909.8h6v7h-6zM804.9 913.8h6v7h-6zM806.9 913.8h6v7h-6zM808.8 913.8h6v7h-6zM810.7 913.8h6v7h-6zM812.7 909.8h6v7h-6zM814.6 909.8h6v7h-6zM816.5 913.8h6v7h-6zM818.5 909.8h6v7h-6zM820.4 913.8h6v7h-6zM822.3 909.8h6v7h-6zM824.3 909.8h6v7h-6zM826.2 913.8h6v7h-6zM828.2 909.8h6v7h-6zM830.1 913.8h6v7h-6zM832.0 913.8h6v7h-6zM834.0 909.8h6v7h-6zM835.9 913.8h6v7h-6zM837.8 909.8h6v7h-6zM839.8 909.8h6v7h-6zM841.7 913.8h6v7h-6zM843.6 909.8h6v7h-6zM845.6 913.8h6v7h-6zM847.5 909.8h6v7h-6zM849.4 913.8h6v7h-6zM851.4 909.8h6v7h-6zM853.3 909.8h6v7h-6zM855.2 909.8h6v7h-6zM857.2 909.8h6v7h-6zM859.1 909.8h6v7h-6zM861.0 909.8h6v7h-6zM863.0 909.8h6v7h-6zM864.9 913.8h6v7h-6zM866.8 909.8h6v7h-6zM868.8 909.8h6v7h-6zM870.7 909.8h6v7h-6zM872.7 913.8h6v7h-6zM874.6 909.8h6v7h-6zM876.5 913.8h6v7h-6zM878.5 913.8h6v7h-6zM880.4 913.8h6v7h-6zM882.3 913.8h6v7h-6zM884.3 913.8h6v7h-6zM886.2 913.8h6v7h-6zM888.1 909.8h6v7h-6zM890.1 913.8h6v7h-6zM892.0 913.8h6v7h-6zM893.9 909.8h6v7h-6zM895.9 913.8h6v7h-6zM897.8 909.8h6v7h-6zM899.7 917.8h6v7h-6zM901.7 913.8h6v7h-6zM903.6 909.8h6v7h-6zM905.5 909.8h6v7h-6zM907.5 913.8h6v7h-6zM909.4 913.8h6v7h-6zM911.4 913.8h6v7h-6zM913.3 913.8h6v7h-6zM915.2 913.8h6v7h-6zM917.2 913.8h6v7h-6zM919.1 909.8h6v7h-6zM921.0 913.8h6v7h-6zM923.0 913.8h6v7h-6zM924.9 909.8h6v7h-6zM926.8 913.8h6v7h-6zM928.8 913.8h6v7h-6zM930.7 909.8h6v7h-6zM932.6 913.8h6v7h-6zM934.6 913.8h6v7h-6zM936.5 913.8h6v7h-6zM938.4 909.8h6v7h-6zM940.4 909.8h6v7h-6zM942.3 909.8h6v7h-6zM944.2 913.8h6v7h-6zM946.2 909.8h6v7h-6zM948.1 909.8h6v7h-6zM950.0 909.8h6v7h-6zM952.0 913.8h6v7h-6zM953.9 913.8h6v7h-6zM955.9 913.8h6v7h-6zM957.8 913.8h6v7h-6zM959.7 913.8h6v7h-6zM961.7 913.8h6v7h-6zM963.6 917.8h6v7h-6zM965.5 913.8h6v7h-6zM967.5 913.8h6v7h-6zM969.4 909.8h6v7h-6zM971.3 917.8h6v7h-6zM973.3 913.8h6v7h-6zM975.2 917.8h6v7h-6zM977.1 913.8h6v7h-6zM979.1 913.8h6v7h-6zM981.0 909.8h6v7h-6zM982.9 913.8h6v7h-6zM984.9 917.8h6v7h-6zM986.8 909.8h6v7h-6zM988.7 917.8h6v7h-6zM990.7 913.8h6v7h-6zM992.6 913.8h6v7h-6zM994.5 913.8h6v7h-6zM996.5 913.8h6v7h-6zM998.4 917.8h6v7h-6zM1000.4 913.8h6v7h-6zM1002.3 917.8h6v7h-6zM1004.2 913.8h6v7h-6zM1006.2 917.8h6v7h-6zM1008.1 913.8h6v7h-6zM1010.0 913.8h6v7h-6zM1012.0 913.8h6v7h-6zM1013.9 917.8h6v7h-6zM1015.8 917.8h6v7h-6zM1017.8 913.8h6v7h-6zM1019.7 913.8h6v7h-6zM1021.6 913.8h6v7h-6zM1023.6 913.8h6v7h-6zM1025.5 917.8h6v7h-6zM1027.4 913.8h6v7h-6zM1029.4 913.8h6v7h-6zM1031.3 913.8h6v7h-6zM1033.2 917.8h6v7h-6zM1035.2 917.8h6v7h-6zM1037.1 913.8h6v7h-6zM1039.0 917.8h6v7h-6zM1041.0 917.8h6v7h-6zM1042.9 913.8h6v7h-6zM1044.9 917.8h6v7h-6zM1046.8 917.8h6v7h-6zM1048.7 913.8h6v7h-6zM1050.7 917.8h6v7h-6zM1052.6 913.8h6v7h-6zM1054.5 917.8h6v7h-6zM1056.5 917.8h6v7h-6zM1058.4 917.8h6v7h-6zM1060.3 917.8h6v7h-6zM1062.3 917.8h6v7h-6zM1064.2 917.8h6v7h-6zM1066.1 917.8h6v7h-6zM1068.1 913.8h6v7h-6zM1070.0 917.8h6v7h-6zM1071.9 917.8h6v7h-6zM1073.9 917.8h6v7h-6zM1075.8 917.8h6v7h-6zM1077.7 913.8h6v7h-6zM1079.7 917.8h6v7h-6zM1081.6 917.8h6v7h-6zM1083.5 921.9h6v7h-6zM1085.5 913.8h6v7h-6zM1087.4 917.8h6v7h-6zM1089.4 913.8h6v7h-6zM1091.3 917.8h6v7h-6zM1093.2 913.8h6v7h-6zM1095.2 917.8h6v7h-6zM1097.1 917.8h6v7h-6zM1099.0 917.8h6v7h-6zM1101.0 921.9h6v7h-6zM1102.9 913.8h6v7h-6zM1104.8 917.8h6v7h-6zM1106.8 917.8h6v7h-6zM1108.7 917.8h6v7h-6zM1110.6 921.9h6v7h-6zM1112.6 917.8h6v7h-6zM1114.5 917.8h6v7h-6zM1116.4 913.8h6v7h-6zM1118.4 917.8h6v7h-6zM1120.3 917.8h6v7h-6zM1122.2 917.8h6v7h-6zM1124.2 917.8h6v7h-6zM1126.1 917.8h6v7h-6zM1128.0 917.8h6v7h-6zM1130.0 917.8h6v7h-6zM1131.9 917.8h6v7h-6zM1133.9 913.8h6v7h-6zM1135.8 917.8h6v7h-6zM1137.7 917.8h6v7h-6zM1139.7 913.8h6v7h-6zM1141.6 913.8h6v7h-6zM1143.5 921.9h6v7h-6zM1145.5 917.8h6v7h-6zM1147.4 917.8h6v7h-6zM1149.3 917.8h6v7h-6zM1151.3 921.9h6v7h-6zM1153.2 917.8h6v7h-6zM1155.1 913.8h6v7h-6zM1157.1 917.8h6v7h-6zM1159.0 913.8h6v7h-6zM1160.9 917.8h6v7h-6zM1162.9 917.8h6v7h-6zM1164.8 921.9h6v7h-6zM1166.7 917.8h6v7h-6zM1168.7 917.8h6v7h-6zM1170.6 921.9h6v7h-6zM1172.5 921.9h6v7h-6zM1174.5 917.8h6v7h-6zM1176.4 921.9h6v7h-6zM1178.4 917.8h6v7h-6zM1180.3 917.8h6v7h-6zM1182.2 913.8h6v7h-6zM1184.2 917.8h6v7h-6zM1186.1 921.9h6v7h-6zM1188.0 917.8h6v7h-6zM1190.0 917.8h6v7h-6zM1191.9 921.9h6v7h-6zM1193.8 921.9h6v7h-6zM1195.8 921.9h6v7h-6zM1197.7 917.8h6v7h-6zM1199.6 917.8h6v7h-6zM1201.6 921.9h6v7h-6zM1203.5 913.8h6v7h-6zM1205.4 913.8h6v7h-6zM1207.4 917.8h6v7h-6zM1209.3 921.9h6v7h-6zM1211.2 917.8h6v7h-6zM1213.2 917.8h6v7h-6zM1215.1 917.8h6v7h-6zM1217.0 917.8h6v7h-6zM1219.0 921.9h6v7h-6zM1220.9 921.9h6v7h-6zM1222.9 921.9h6v7h-6zM1224.8 921.9h6v7h-6zM1226.7 917.8h6v7h-6zM1228.7 921.9h6v7h-6zM1230.6 917.8h6v7h-6zM1232.5 917.8h6v7h-6zM1234.5 917.8h6v7h-6zM1236.4 917.8h6v7h-6zM1238.3 917.8h6v7h-6zM1240.3 917.8h6v7h-6zM1242.2 913.8h6v7h-6zM1244.1 921.9h6v7h-6zM1246.1 921.9h6v7h-6zM1248.0 921.9h6v7h-6zM1249.9 921.9h6v7h-6zM1251.9 913.8h6v7h-6zM1253.8 917.8h6v7h-6zM1255.7 917.8h6v7h-6zM1257.7 917.8h6v7h-6zM1259.6 917.8h6v7h-6zM1261.5 917.8h6v7h-6zM1263.5 917.8h6v7h-6zM1265.4 917.8h6v7h-6zM1267.4 917.8h6v7h-6zM1269.3 917.8h6v7h-6zM1271.2 921.9h6v7h-6zM1273.2 921.9h6v7h-6zM1275.1 921.9h6v7h-6zM1277.0 917.8h6v7h-6zM1279.0 921.9h6v7h-6zM1280.9 921.9h6v7h-6zM1282.8 921.9h6v7h-6zM1284.8 921.9h6v7h-6zM1286.7 921.9h6v7h-6zM1288.6 921.9h6v7h-6zM1290.6 917.8h6v7h-6zM1292.5 913.8h6v7h-6zM1294.4 921.9h6v7h-6zM1296.4 921.9h6v7h-6zM1298.3 917.8h6v7h-6zM1300.2 917.8h6v7h-6zM1302.2 917.8h6v7h-6z"/>
<g fill="#000" shape-rendering="crispEdges">
<rect x="943" y="40" width="408" height="2.3"/>
<rect x="943" y="40" width="2.3" height="342"/>
<rect x="1349" y="40" width="2.3" height="337"/>
<rect x="943" y="374" width="408" height="2.5"/>
<rect x="937" y="269.2" width="7" height="2.3"/>
<rect x="937" y="165.1" width="7" height="2.3"/>
<rect x="937" y="61.0" width="7" height="2.3"/>
<rect x="940" y="321.2" width="4" height="2.3"/>
<rect x="940" y="217.2" width="4" height="2.3"/>
<rect x="940" y="113.1" width="4" height="2.3"/>
<rect x="1127.1" y="375" width="2.3" height="7.5"/>
<rect x="1311.4" y="375" width="2.3" height="7.5"/>
<rect x="1035.0" y="375" width="2.3" height="3.5"/>
<rect x="1219.2" y="375" width="2.3" height="3.5"/>
</g>
<clipPath id="ic"><rect x="945" y="42" width="404" height="332.5"/></clipPath>
<g clip-path="url(#ic)">
<polyline fill="none" stroke="#000" stroke-width="4.2" stroke-linejoin="round" points="943.9,375.2 1100,244.2 1263,102.5 1290,81.5 1313,70"/>
<ellipse cx="943.9" cy="375.2" rx="11" ry="12.1" fill="#000"/>
<ellipse cx="967.1" cy="345.2" rx="11" ry="12.1" fill="#000"/>
<ellipse cx="990" cy="324.1" rx="11" ry="12.1" fill="#000"/>
<ellipse cx="1035.8" cy="291.6" rx="11" ry="12.1" fill="#000"/>
<ellipse cx="1128" cy="211.6" rx="11" ry="12.1" fill="#000"/>
<ellipse cx="1313" cy="69.9" rx="11" ry="12.1" fill="#000"/>
</g>
<text font-size="100" transform="matrix(0.3629,0,0,0.4179,869.15,281.86)">0.05</text>
<text font-size="100" transform="matrix(0.3629,0,0,0.4179,869.15,177.76)">0.10</text>
<text font-size="100" transform="matrix(0.3629,0,0,0.4179,869.15,73.66)">0.15</text>
<text font-size="100" transform="matrix(0.3653,0,0,0.4209,911.94,418.16)">0.00</text>
<text font-size="100" transform="matrix(0.3653,0,0,0.4209,1096.24,418.16)">0.05</text>
<text font-size="100" transform="matrix(0.3653,0,0,0.4209,1280.54,418.16)">0.10</text>
<text font-size="100" transform="matrix(0.3668,0,0,0.4244,1071.63,471.29)">C [g dm<tspan font-size="58" dy="-59">-3</tspan><tspan dy="59">]</tspan></text>
<text font-size="100" transform="matrix(0,-0.4154,0.3686,0,855.23,288.92)">Absorbance</text>
</svg></body></html>
